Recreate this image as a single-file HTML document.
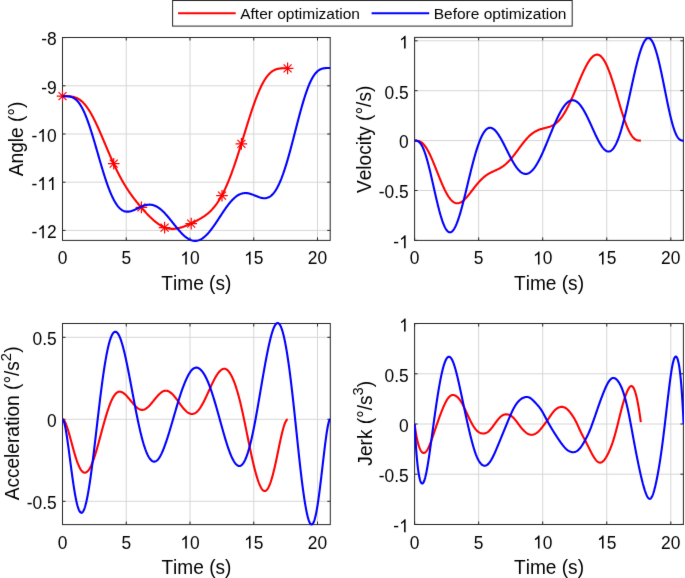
<!DOCTYPE html><html><head><meta charset="utf-8"><style>html,body{margin:0;padding:0;background:#fff;}svg{display:block;}text{font-family:"Liberation Sans",sans-serif;fill:#000;font-kerning:none;font-feature-settings:"kern" 0;}</style></head><body>
<svg width="685" height="578" viewBox="0 0 685 578">
<defs><filter id="bl" x="0" y="0" width="685" height="578" filterUnits="userSpaceOnUse" color-interpolation-filters="sRGB"><feConvolveMatrix order="3" kernelMatrix="0.00524 0.06192 0.00524 0.06192 0.73137 0.06192 0.00524 0.06192 0.00524" divisor="1" edgeMode="duplicate" preserveAlpha="true"/></filter></defs>
<g filter="url(#bl)">
<rect width="685" height="578" fill="#fff"/>
<g stroke="#d6d6d6" stroke-width="1"><line x1="126.25" y1="37.5" x2="126.25" y2="240.4"/><line x1="190.00" y1="37.5" x2="190.00" y2="240.4"/><line x1="253.75" y1="37.5" x2="253.75" y2="240.4"/><line x1="317.50" y1="37.5" x2="317.50" y2="240.4"/><line x1="62.5" y1="230.40" x2="330.2" y2="230.40"/><line x1="62.5" y1="182.20" x2="330.2" y2="182.20"/><line x1="62.5" y1="134.00" x2="330.2" y2="134.00"/><line x1="62.5" y1="85.80" x2="330.2" y2="85.80"/></g>
<path d="M62.50,240.4v-3.0M62.50,37.5v3.0M126.25,240.4v-3.0M126.25,37.5v3.0M190.00,240.4v-3.0M190.00,37.5v3.0M253.75,240.4v-3.0M253.75,37.5v3.0M317.50,240.4v-3.0M317.50,37.5v3.0M62.5,230.40h3.0M330.2,230.40h-3.0M62.5,182.20h3.0M330.2,182.20h-3.0M62.5,134.00h3.0M330.2,134.00h-3.0M62.5,85.80h3.0M330.2,85.80h-3.0M62.5,37.60h3.0M330.2,37.60h-3.0" stroke="#262626" stroke-width="1" fill="none"/>
<rect x="62.5" y="37.5" width="267.70" height="202.90" fill="none" stroke="#262626" stroke-width="1"/>
<text transform="translate(57.66,264.40) scale(1,1.035)" font-size="17.4">0</text>
<text transform="translate(121.41,264.40) scale(1,1.035)" font-size="17.4">5</text>
<path d="M763,0 L583,0 L583,1147 Q430,1010 222,930 L222,1104 Q500,1230 646,1466 L763,1466 Z" transform="translate(180.32,264.40) scale(0.008496,-0.008793)" fill="#000"/><text transform="translate(190.00,264.40) scale(1,1.035)" font-size="17.4">0</text>
<path d="M763,0 L583,0 L583,1147 Q430,1010 222,930 L222,1104 Q500,1230 646,1466 L763,1466 Z" transform="translate(244.07,264.40) scale(0.008496,-0.008793)" fill="#000"/><text transform="translate(253.75,264.40) scale(1,1.035)" font-size="17.4">5</text>
<text transform="translate(307.82,264.40) scale(1,1.035)" font-size="17.4">20</text>
<text transform="translate(31.55,238.20) scale(1,1.035)" font-size="17.4">-</text><path d="M763,0 L583,0 L583,1147 Q430,1010 222,930 L222,1104 Q500,1230 646,1466 L763,1466 Z" transform="translate(37.35,238.20) scale(0.008496,-0.008793)" fill="#000"/><text transform="translate(47.02,238.20) scale(1,1.035)" font-size="17.4">2</text>
<text transform="translate(31.55,190.00) scale(1,1.035)" font-size="17.4">-</text><path d="M763,0 L583,0 L583,1147 Q430,1010 222,930 L222,1104 Q500,1230 646,1466 L763,1466 Z" transform="translate(37.35,190.00) scale(0.008496,-0.008793)" fill="#000"/><path d="M763,0 L583,0 L583,1147 Q430,1010 222,930 L222,1104 Q500,1230 646,1466 L763,1466 Z" transform="translate(47.02,190.00) scale(0.008496,-0.008793)" fill="#000"/>
<text transform="translate(31.55,141.80) scale(1,1.035)" font-size="17.4">-</text><path d="M763,0 L583,0 L583,1147 Q430,1010 222,930 L222,1104 Q500,1230 646,1466 L763,1466 Z" transform="translate(37.35,141.80) scale(0.008496,-0.008793)" fill="#000"/><text transform="translate(47.02,141.80) scale(1,1.035)" font-size="17.4">0</text>
<text transform="translate(41.23,93.60) scale(1,1.035)" font-size="17.4">-9</text>
<text transform="translate(41.23,45.40) scale(1,1.035)" font-size="17.4">-8</text>
<text transform="translate(196.35,289.80) scale(1,1.035)" font-size="19.1" text-anchor="middle">Time (s)</text>
<text transform="translate(23.45,138.95) rotate(-90) scale(1,1.02)" font-size="19.1" text-anchor="middle">Angle (°)</text>
<g stroke="#d6d6d6" stroke-width="1"><line x1="478.65" y1="37.4" x2="478.65" y2="240.4"/><line x1="542.70" y1="37.4" x2="542.70" y2="240.4"/><line x1="606.75" y1="37.4" x2="606.75" y2="240.4"/><line x1="670.80" y1="37.4" x2="670.80" y2="240.4"/><line x1="414.6" y1="190.50" x2="683.4" y2="190.50"/><line x1="414.6" y1="140.60" x2="683.4" y2="140.60"/><line x1="414.6" y1="90.70" x2="683.4" y2="90.70"/><line x1="414.6" y1="40.80" x2="683.4" y2="40.80"/></g>
<path d="M414.60,240.4v-3.0M414.60,37.4v3.0M478.65,240.4v-3.0M478.65,37.4v3.0M542.70,240.4v-3.0M542.70,37.4v3.0M606.75,240.4v-3.0M606.75,37.4v3.0M670.80,240.4v-3.0M670.80,37.4v3.0M414.6,240.40h3.0M683.4,240.40h-3.0M414.6,190.50h3.0M683.4,190.50h-3.0M414.6,140.60h3.0M683.4,140.60h-3.0M414.6,90.70h3.0M683.4,90.70h-3.0M414.6,40.80h3.0M683.4,40.80h-3.0" stroke="#262626" stroke-width="1" fill="none"/>
<rect x="414.6" y="37.4" width="268.80" height="203.00" fill="none" stroke="#262626" stroke-width="1"/>
<text transform="translate(409.76,264.40) scale(1,1.035)" font-size="17.4">0</text>
<text transform="translate(473.81,264.40) scale(1,1.035)" font-size="17.4">5</text>
<path d="M763,0 L583,0 L583,1147 Q430,1010 222,930 L222,1104 Q500,1230 646,1466 L763,1466 Z" transform="translate(533.02,264.40) scale(0.008496,-0.008793)" fill="#000"/><text transform="translate(542.70,264.40) scale(1,1.035)" font-size="17.4">0</text>
<path d="M763,0 L583,0 L583,1147 Q430,1010 222,930 L222,1104 Q500,1230 646,1466 L763,1466 Z" transform="translate(597.07,264.40) scale(0.008496,-0.008793)" fill="#000"/><text transform="translate(606.75,264.40) scale(1,1.035)" font-size="17.4">5</text>
<text transform="translate(661.12,264.40) scale(1,1.035)" font-size="17.4">20</text>
<text transform="translate(393.33,248.20) scale(1,1.035)" font-size="17.4">-</text><path d="M763,0 L583,0 L583,1147 Q430,1010 222,930 L222,1104 Q500,1230 646,1466 L763,1466 Z" transform="translate(399.12,248.20) scale(0.008496,-0.008793)" fill="#000"/>
<text transform="translate(378.82,198.30) scale(1,1.035)" font-size="17.4">-0.5</text>
<text transform="translate(399.12,148.40) scale(1,1.035)" font-size="17.4">0</text>
<text transform="translate(384.61,98.50) scale(1,1.035)" font-size="17.4">0.5</text>
<path d="M763,0 L583,0 L583,1147 Q430,1010 222,930 L222,1104 Q500,1230 646,1466 L763,1466 Z" transform="translate(399.12,48.60) scale(0.008496,-0.008793)" fill="#000"/>
<text transform="translate(549.00,289.80) scale(1,1.035)" font-size="19.1" text-anchor="middle">Time (s)</text>
<text transform="translate(370.7,139.40) rotate(-90) scale(1,1.02)" font-size="19.1" text-anchor="middle">Velocity (°/s)</text>
<g stroke="#d6d6d6" stroke-width="1"><line x1="126.25" y1="323.5" x2="126.25" y2="524.6"/><line x1="190.00" y1="323.5" x2="190.00" y2="524.6"/><line x1="253.75" y1="323.5" x2="253.75" y2="524.6"/><line x1="317.50" y1="323.5" x2="317.50" y2="524.6"/><line x1="62.5" y1="501.30" x2="330.3" y2="501.30"/><line x1="62.5" y1="419.30" x2="330.3" y2="419.30"/><line x1="62.5" y1="337.30" x2="330.3" y2="337.30"/></g>
<path d="M62.50,524.6v-3.0M62.50,323.5v3.0M126.25,524.6v-3.0M126.25,323.5v3.0M190.00,524.6v-3.0M190.00,323.5v3.0M253.75,524.6v-3.0M253.75,323.5v3.0M317.50,524.6v-3.0M317.50,323.5v3.0M62.5,501.30h3.0M330.3,501.30h-3.0M62.5,419.30h3.0M330.3,419.30h-3.0M62.5,337.30h3.0M330.3,337.30h-3.0" stroke="#262626" stroke-width="1" fill="none"/>
<rect x="62.5" y="323.5" width="267.80" height="201.10" fill="none" stroke="#262626" stroke-width="1"/>
<text transform="translate(57.66,548.60) scale(1,1.035)" font-size="17.4">0</text>
<text transform="translate(121.41,548.60) scale(1,1.035)" font-size="17.4">5</text>
<path d="M763,0 L583,0 L583,1147 Q430,1010 222,930 L222,1104 Q500,1230 646,1466 L763,1466 Z" transform="translate(180.32,548.60) scale(0.008496,-0.008793)" fill="#000"/><text transform="translate(190.00,548.60) scale(1,1.035)" font-size="17.4">0</text>
<path d="M763,0 L583,0 L583,1147 Q430,1010 222,930 L222,1104 Q500,1230 646,1466 L763,1466 Z" transform="translate(244.07,548.60) scale(0.008496,-0.008793)" fill="#000"/><text transform="translate(253.75,548.60) scale(1,1.035)" font-size="17.4">5</text>
<text transform="translate(307.82,548.60) scale(1,1.035)" font-size="17.4">20</text>
<text transform="translate(26.72,509.10) scale(1,1.035)" font-size="17.4">-0.5</text>
<text transform="translate(47.02,427.10) scale(1,1.035)" font-size="17.4">0</text>
<text transform="translate(32.51,345.10) scale(1,1.035)" font-size="17.4">0.5</text>
<text transform="translate(196.40,574.00) scale(1,1.035)" font-size="19.1" text-anchor="middle">Time (s)</text>
<text transform="translate(19.3,423.40) rotate(-90) scale(1,1.02)" font-size="19.1" text-anchor="middle">Acceleration (°/s<tspan font-size="14.9" dy="-8.2">2</tspan><tspan dy="8.2">)</tspan></text>
<g stroke="#d6d6d6" stroke-width="1"><line x1="478.65" y1="323.5" x2="478.65" y2="524.5"/><line x1="542.70" y1="323.5" x2="542.70" y2="524.5"/><line x1="606.75" y1="323.5" x2="606.75" y2="524.5"/><line x1="670.80" y1="323.5" x2="670.80" y2="524.5"/><line x1="414.6" y1="474.20" x2="683.4" y2="474.20"/><line x1="414.6" y1="424.00" x2="683.4" y2="424.00"/><line x1="414.6" y1="373.80" x2="683.4" y2="373.80"/></g>
<path d="M414.60,524.5v-3.0M414.60,323.5v3.0M478.65,524.5v-3.0M478.65,323.5v3.0M542.70,524.5v-3.0M542.70,323.5v3.0M606.75,524.5v-3.0M606.75,323.5v3.0M670.80,524.5v-3.0M670.80,323.5v3.0M414.6,524.40h3.0M683.4,524.40h-3.0M414.6,474.20h3.0M683.4,474.20h-3.0M414.6,424.00h3.0M683.4,424.00h-3.0M414.6,373.80h3.0M683.4,373.80h-3.0M414.6,323.60h3.0M683.4,323.60h-3.0" stroke="#262626" stroke-width="1" fill="none"/>
<rect x="414.6" y="323.5" width="268.80" height="201.00" fill="none" stroke="#262626" stroke-width="1"/>
<text transform="translate(409.76,548.50) scale(1,1.035)" font-size="17.4">0</text>
<text transform="translate(473.81,548.50) scale(1,1.035)" font-size="17.4">5</text>
<path d="M763,0 L583,0 L583,1147 Q430,1010 222,930 L222,1104 Q500,1230 646,1466 L763,1466 Z" transform="translate(533.02,548.50) scale(0.008496,-0.008793)" fill="#000"/><text transform="translate(542.70,548.50) scale(1,1.035)" font-size="17.4">0</text>
<path d="M763,0 L583,0 L583,1147 Q430,1010 222,930 L222,1104 Q500,1230 646,1466 L763,1466 Z" transform="translate(597.07,548.50) scale(0.008496,-0.008793)" fill="#000"/><text transform="translate(606.75,548.50) scale(1,1.035)" font-size="17.4">5</text>
<text transform="translate(661.12,548.50) scale(1,1.035)" font-size="17.4">20</text>
<text transform="translate(393.33,532.20) scale(1,1.035)" font-size="17.4">-</text><path d="M763,0 L583,0 L583,1147 Q430,1010 222,930 L222,1104 Q500,1230 646,1466 L763,1466 Z" transform="translate(399.12,532.20) scale(0.008496,-0.008793)" fill="#000"/>
<text transform="translate(378.82,482.00) scale(1,1.035)" font-size="17.4">-0.5</text>
<text transform="translate(399.12,431.80) scale(1,1.035)" font-size="17.4">0</text>
<text transform="translate(384.61,381.60) scale(1,1.035)" font-size="17.4">0.5</text>
<path d="M763,0 L583,0 L583,1147 Q430,1010 222,930 L222,1104 Q500,1230 646,1466 L763,1466 Z" transform="translate(399.12,331.40) scale(0.008496,-0.008793)" fill="#000"/>
<text transform="translate(549.00,573.90) scale(1,1.035)" font-size="19.1" text-anchor="middle">Time (s)</text>
<text transform="translate(371.5,423.20) rotate(-90) scale(1,1.02)" font-size="19.1" text-anchor="middle">Jerk (°/s<tspan font-size="14.9" dy="-8.2">3</tspan><tspan dy="8.2">)</tspan></text>
<defs><clipPath id="cA"><rect x="62.0" y="36.0" width="268.7" height="205.9"/></clipPath><clipPath id="cV"><rect x="414.1" y="35.9" width="269.79999999999995" height="206.0"/></clipPath><clipPath id="cC"><rect x="62.0" y="322.0" width="268.8" height="204.10000000000002"/></clipPath><clipPath id="cJ"><rect x="414.1" y="322.0" width="269.79999999999995" height="204.0"/></clipPath></defs>
<g clip-path="url(#cA)"><path d="M62.50,96.20 L63.21,96.20 L63.93,96.20 L64.64,96.20 L65.35,96.20 L66.07,96.21 L66.78,96.22 L67.49,96.24 L68.20,96.26 L68.92,96.30 L69.63,96.35 L70.34,96.41 L71.06,96.49 L71.77,96.60 L72.48,96.72 L73.20,96.87 L73.91,97.04 L74.58,97.23 L75.26,97.46 L75.93,97.71 L76.61,97.99 L77.25,98.29 L77.89,98.62 L78.52,98.98 L79.12,99.35 L79.73,99.75 L80.33,100.19 L80.89,100.62 L81.45,101.09 L82.01,101.58 L82.54,102.07 L83.07,102.59 L83.59,103.13 L84.08,103.65 L84.57,104.20 L85.05,104.77 L85.50,105.32 L85.95,105.89 L86.41,106.48 L86.86,107.08 L87.27,107.66 L87.68,108.24 L88.09,108.85 L88.51,109.47 L88.92,110.11 L89.29,110.70 L89.67,111.30 L90.05,111.92 L90.42,112.55 L90.80,113.19 L91.17,113.85 L91.55,114.51 L91.92,115.19 L92.26,115.81 L92.60,116.44 L92.93,117.07 L93.27,117.72 L93.61,118.37 L93.95,119.04 L94.29,119.71 L94.62,120.38 L94.96,121.07 L95.30,121.76 L95.64,122.46 L95.97,123.17 L96.27,123.81 L96.57,124.45 L96.88,125.09 L97.18,125.74 L97.48,126.39 L97.78,127.05 L98.08,127.72 L98.38,128.38 L98.68,129.05 L98.98,129.73 L99.28,130.41 L99.58,131.09 L99.88,131.77 L100.18,132.46 L100.48,133.15 L100.78,133.85 L101.08,134.54 L101.38,135.24 L101.68,135.94 L101.98,136.65 L102.28,137.35 L102.58,138.06 L102.88,138.77 L103.18,139.47 L103.48,140.18 L103.78,140.90 L104.08,141.61 L104.38,142.32 L104.68,143.03 L104.98,143.74 L105.28,144.46 L105.58,145.17 L105.88,145.88 L106.18,146.60 L106.48,147.31 L106.78,148.02 L107.08,148.73 L107.38,149.44 L107.68,150.14 L107.98,150.85 L108.28,151.55 L108.58,152.26 L108.88,152.96 L109.18,153.65 L109.48,154.35 L109.78,155.05 L110.08,155.74 L110.39,156.43 L110.69,157.11 L110.99,157.80 L111.29,158.48 L111.59,159.16 L111.89,159.83 L112.19,160.51 L112.49,161.17 L112.79,161.84 L113.09,162.50 L113.39,163.16 L113.69,163.81 L113.99,164.47 L114.29,165.11 L114.59,165.76 L114.89,166.39 L115.19,167.03 L115.53,167.74 L115.86,168.44 L116.20,169.14 L116.54,169.84 L116.88,170.53 L117.22,171.21 L117.55,171.89 L117.89,172.56 L118.23,173.22 L118.57,173.88 L118.90,174.54 L119.24,175.19 L119.58,175.83 L119.92,176.47 L120.25,177.10 L120.59,177.73 L120.93,178.35 L121.27,178.96 L121.64,179.64 L122.02,180.31 L122.39,180.97 L122.77,181.63 L123.14,182.28 L123.52,182.92 L123.89,183.56 L124.27,184.19 L124.65,184.81 L125.02,185.43 L125.40,186.04 L125.77,186.64 L126.15,187.24 L126.52,187.83 L126.93,188.47 L127.35,189.11 L127.76,189.74 L128.17,190.36 L128.59,190.98 L129.00,191.59 L129.41,192.19 L129.82,192.79 L130.24,193.38 L130.65,193.96 L131.06,194.54 L131.48,195.12 L131.89,195.69 L132.34,196.30 L132.79,196.91 L133.24,197.51 L133.69,198.11 L134.14,198.70 L134.59,199.28 L135.04,199.86 L135.49,200.44 L135.94,201.01 L136.39,201.57 L136.84,202.13 L137.29,202.69 L137.74,203.24 L138.19,203.79 L138.64,204.34 L139.09,204.88 L139.54,205.42 L140.03,205.99 L140.52,206.57 L141.01,207.14 L141.50,207.70 L141.98,208.26 L142.47,208.82 L142.96,209.37 L143.45,209.92 L143.93,210.47 L144.42,211.01 L144.91,211.54 L145.40,212.08 L145.89,212.60 L146.37,213.13 L146.86,213.64 L147.35,214.16 L147.84,214.67 L148.33,215.17 L148.85,215.71 L149.38,216.23 L149.90,216.76 L150.43,217.27 L150.95,217.78 L151.48,218.28 L152.00,218.77 L152.53,219.26 L153.05,219.73 L153.58,220.20 L154.14,220.69 L154.71,221.17 L155.27,221.64 L155.83,222.09 L156.39,222.53 L156.96,222.96 L157.52,223.38 L158.12,223.81 L158.72,224.23 L159.32,224.63 L159.92,225.01 L160.52,225.37 L161.16,225.74 L161.80,226.09 L162.44,226.42 L163.07,226.73 L163.71,227.02 L164.39,227.31 L165.06,227.57 L165.74,227.80 L166.41,228.01 L167.09,228.20 L167.80,228.38 L168.52,228.53 L169.23,228.65 L169.94,228.75 L170.65,228.82 L171.37,228.87 L172.08,228.89 L172.79,228.89 L173.51,228.87 L174.22,228.82 L174.93,228.76 L175.65,228.67 L176.36,228.57 L177.07,228.44 L177.78,228.30 L178.50,228.14 L179.21,227.97 L179.92,227.78 L180.60,227.58 L181.27,227.38 L181.95,227.16 L182.63,226.93 L183.30,226.69 L183.98,226.45 L184.65,226.19 L185.33,225.93 L186.00,225.66 L186.68,225.38 L187.35,225.10 L188.03,224.81 L188.70,224.52 L189.38,224.22 L190.06,223.91 L190.69,223.62 L191.33,223.32 L191.97,223.02 L192.61,222.72 L193.25,222.41 L193.88,222.10 L194.52,221.79 L195.16,221.47 L195.80,221.14 L196.44,220.81 L197.07,220.48 L197.71,220.14 L198.35,219.79 L198.99,219.44 L199.63,219.07 L200.26,218.71 L200.90,218.33 L201.50,217.97 L202.10,217.59 L202.70,217.21 L203.30,216.82 L203.90,216.42 L204.50,216.01 L205.10,215.58 L205.70,215.14 L206.27,214.71 L206.83,214.28 L207.39,213.82 L207.96,213.36 L208.52,212.88 L209.04,212.41 L209.57,211.93 L210.10,211.44 L210.62,210.93 L211.15,210.41 L211.63,209.91 L212.12,209.39 L212.61,208.86 L213.10,208.31 L213.59,207.74 L214.07,207.16 L214.52,206.61 L214.97,206.05 L215.42,205.47 L215.87,204.87 L216.33,204.26 L216.74,203.68 L217.15,203.10 L217.56,202.49 L217.98,201.88 L218.39,201.25 L218.80,200.60 L219.18,200.00 L219.55,199.39 L219.93,198.77 L220.30,198.13 L220.68,197.49 L221.05,196.83 L221.43,196.15 L221.77,195.54 L222.10,194.91 L222.44,194.27 L222.78,193.63 L223.12,192.97 L223.46,192.30 L223.79,191.62 L224.13,190.94 L224.47,190.24 L224.81,189.53 L225.11,188.89 L225.41,188.24 L225.71,187.58 L226.01,186.92 L226.31,186.25 L226.61,185.57 L226.91,184.88 L227.21,184.18 L227.51,183.48 L227.81,182.77 L228.11,182.04 L228.41,181.32 L228.71,180.58 L228.97,179.93 L229.23,179.27 L229.50,178.61 L229.76,177.94 L230.02,177.27 L230.29,176.59 L230.55,175.90 L230.81,175.21 L231.07,174.51 L231.34,173.81 L231.60,173.10 L231.86,172.39 L232.12,171.67 L232.39,170.95 L232.65,170.22 L232.91,169.49 L233.18,168.75 L233.44,168.00 L233.70,167.26 L233.96,166.50 L234.23,165.74 L234.49,164.98 L234.75,164.21 L235.01,163.44 L235.24,162.78 L235.46,162.11 L235.69,161.44 L235.91,160.76 L236.14,160.08 L236.36,159.40 L236.59,158.72 L236.82,158.04 L237.04,157.35 L237.27,156.66 L237.49,155.96 L237.72,155.26 L237.94,154.57 L238.17,153.86 L238.39,153.16 L238.62,152.46 L238.84,151.75 L239.07,151.04 L239.29,150.33 L239.52,149.61 L239.74,148.90 L239.97,148.18 L240.19,147.46 L240.42,146.74 L240.64,146.02 L240.87,145.29 L241.09,144.57 L241.32,143.84 L241.54,143.12 L241.77,142.39 L241.99,141.66 L242.22,140.93 L242.44,140.20 L242.67,139.47 L242.89,138.73 L243.12,138.00 L243.35,137.27 L243.57,136.54 L243.80,135.80 L244.02,135.07 L244.25,134.34 L244.47,133.60 L244.70,132.87 L244.92,132.14 L245.15,131.40 L245.37,130.67 L245.60,129.94 L245.82,129.21 L246.05,128.48 L246.27,127.75 L246.50,127.02 L246.72,126.29 L246.95,125.57 L247.17,124.84 L247.40,124.12 L247.62,123.40 L247.85,122.68 L248.07,121.96 L248.30,121.24 L248.52,120.53 L248.75,119.82 L248.97,119.11 L249.20,118.40 L249.42,117.69 L249.65,116.99 L249.87,116.29 L250.10,115.59 L250.33,114.89 L250.55,114.20 L250.78,113.51 L251.00,112.82 L251.23,112.14 L251.45,111.46 L251.68,110.78 L251.90,110.11 L252.13,109.44 L252.35,108.77 L252.58,108.11 L252.84,107.34 L253.10,106.57 L253.36,105.81 L253.63,105.06 L253.89,104.31 L254.15,103.57 L254.42,102.84 L254.68,102.11 L254.94,101.38 L255.20,100.67 L255.47,99.96 L255.73,99.25 L255.99,98.56 L256.25,97.86 L256.52,97.18 L256.78,96.50 L257.04,95.84 L257.31,95.17 L257.57,94.52 L257.87,93.78 L258.17,93.05 L258.47,92.33 L258.77,91.62 L259.07,90.92 L259.37,90.24 L259.67,89.56 L259.97,88.89 L260.27,88.23 L260.57,87.59 L260.87,86.95 L261.21,86.25 L261.55,85.57 L261.88,84.90 L262.22,84.24 L262.56,83.60 L262.90,82.97 L263.23,82.35 L263.61,81.69 L263.99,81.04 L264.36,80.41 L264.74,79.80 L265.11,79.21 L265.52,78.58 L265.94,77.97 L266.35,77.39 L266.80,76.77 L267.25,76.18 L267.70,75.62 L268.15,75.08 L268.64,74.53 L269.13,74.00 L269.65,73.47 L270.18,72.97 L270.70,72.50 L271.27,72.04 L271.83,71.60 L272.43,71.18 L273.03,70.79 L273.67,70.42 L274.31,70.09 L274.94,69.79 L275.62,69.51 L276.29,69.27 L276.97,69.07 L277.68,68.88 L278.40,68.73 L279.11,68.60 L279.82,68.50 L280.53,68.42 L281.25,68.36 L281.96,68.31 L282.67,68.28 L283.39,68.26 L284.10,68.25 L284.81,68.24 L285.53,68.23 L286.24,68.23 L286.95,68.23 L287.66,68.23" stroke="#ff0000" stroke-width="2.1" fill="none" stroke-linejoin="round" stroke-linecap="butt"/></g>
<path d="M56.70,96.20h11.6M62.50,90.40v11.6M58.50,92.20l8.0,8.0M58.50,100.20l8.0,-8.0M107.90,163.70h11.6M113.70,157.90v11.6M109.70,159.70l8.0,8.0M109.70,167.70l8.0,-8.0M135.60,207.40h11.6M141.40,201.60v11.6M137.40,203.40l8.0,8.0M137.40,211.40l8.0,-8.0M158.80,227.60h11.6M164.60,221.80v11.6M160.60,223.60l8.0,8.0M160.60,231.60l8.0,-8.0M185.40,223.60h11.6M191.20,217.80v11.6M187.20,219.60l8.0,8.0M187.20,227.60l8.0,-8.0M216.20,195.70h11.6M222.00,189.90v11.6M218.00,191.70l8.0,8.0M218.00,199.70l8.0,-8.0M235.60,143.90h11.6M241.40,138.10v11.6M237.40,139.90l8.0,8.0M237.40,147.90l8.0,-8.0M281.80,68.40h11.6M287.60,62.60v11.6M283.60,64.40l8.0,8.0M283.60,72.40l8.0,-8.0" stroke="#ff0000" stroke-width="1.2" fill="none"/>
<g clip-path="url(#cA)"><path d="M62.50,96.20 L63.21,96.20 L63.93,96.20 L64.64,96.20 L65.36,96.21 L66.07,96.23 L66.78,96.25 L67.50,96.29 L68.21,96.36 L68.93,96.44 L69.64,96.56 L70.35,96.71 L71.07,96.89 L71.74,97.11 L72.41,97.37 L73.08,97.68 L73.70,98.01 L74.33,98.39 L74.91,98.79 L75.49,99.23 L76.07,99.72 L76.60,100.21 L77.14,100.75 L77.63,101.28 L78.12,101.85 L78.56,102.41 L79.01,102.99 L79.46,103.61 L79.86,104.19 L80.26,104.80 L80.66,105.44 L81.06,106.10 L81.42,106.71 L81.78,107.35 L82.14,108.00 L82.49,108.68 L82.85,109.38 L83.16,110.01 L83.47,110.66 L83.79,111.32 L84.10,112.00 L84.41,112.69 L84.72,113.40 L85.04,114.12 L85.35,114.86 L85.62,115.51 L85.88,116.17 L86.15,116.84 L86.42,117.52 L86.69,118.21 L86.95,118.91 L87.22,119.62 L87.49,120.34 L87.76,121.07 L88.03,121.81 L88.29,122.56 L88.56,123.32 L88.83,124.09 L89.10,124.87 L89.36,125.66 L89.63,126.45 L89.86,127.12 L90.08,127.80 L90.30,128.48 L90.52,129.16 L90.75,129.85 L90.97,130.55 L91.19,131.25 L91.42,131.96 L91.64,132.67 L91.86,133.38 L92.09,134.10 L92.31,134.83 L92.53,135.56 L92.76,136.29 L92.98,137.02 L93.20,137.76 L93.43,138.50 L93.65,139.25 L93.87,140.00 L94.09,140.75 L94.32,141.50 L94.54,142.26 L94.76,143.02 L94.99,143.78 L95.21,144.55 L95.43,145.31 L95.66,146.08 L95.88,146.85 L96.10,147.62 L96.33,148.39 L96.55,149.16 L96.77,149.94 L97.00,150.71 L97.22,151.49 L97.44,152.26 L97.66,153.04 L97.89,153.81 L98.11,154.59 L98.33,155.36 L98.56,156.14 L98.78,156.91 L99.00,157.68 L99.23,158.45 L99.45,159.22 L99.67,159.99 L99.90,160.76 L100.12,161.53 L100.34,162.29 L100.57,163.05 L100.79,163.81 L101.01,164.57 L101.23,165.33 L101.46,166.08 L101.68,166.83 L101.90,167.57 L102.13,168.32 L102.35,169.06 L102.57,169.80 L102.80,170.53 L103.02,171.26 L103.24,171.98 L103.47,172.71 L103.69,173.42 L103.91,174.14 L104.14,174.85 L104.36,175.55 L104.58,176.25 L104.80,176.95 L105.03,177.64 L105.25,178.32 L105.47,179.00 L105.70,179.68 L105.92,180.35 L106.14,181.01 L106.41,181.80 L106.68,182.58 L106.95,183.35 L107.21,184.11 L107.48,184.87 L107.75,185.62 L108.02,186.35 L108.29,187.08 L108.55,187.80 L108.82,188.51 L109.09,189.21 L109.36,189.89 L109.62,190.57 L109.89,191.24 L110.16,191.90 L110.43,192.55 L110.74,193.29 L111.05,194.02 L111.36,194.74 L111.68,195.43 L111.99,196.12 L112.30,196.79 L112.61,197.44 L112.93,198.08 L113.28,198.80 L113.64,199.49 L114.00,200.16 L114.35,200.82 L114.71,201.45 L115.07,202.06 L115.47,202.73 L115.87,203.37 L116.27,203.98 L116.67,204.57 L117.12,205.19 L117.57,205.79 L118.01,206.35 L118.50,206.93 L119.00,207.48 L119.49,207.99 L120.02,208.50 L120.56,208.97 L121.14,209.44 L121.72,209.85 L122.34,210.25 L122.97,210.59 L123.64,210.91 L124.31,211.16 L125.02,211.37 L125.73,211.53 L126.45,211.62 L127.16,211.67 L127.88,211.66 L128.59,211.61 L129.30,211.51 L130.02,211.37 L130.73,211.20 L131.45,211.00 L132.12,210.78 L132.78,210.53 L133.45,210.27 L134.12,209.99 L134.79,209.69 L135.46,209.39 L136.13,209.07 L136.80,208.75 L137.47,208.43 L138.14,208.10 L138.81,207.78 L139.48,207.46 L140.15,207.15 L140.82,206.84 L141.49,206.55 L142.16,206.28 L142.82,206.01 L143.49,205.77 L144.16,205.55 L144.88,205.33 L145.59,205.14 L146.31,204.98 L147.02,204.85 L147.73,204.75 L148.45,204.69 L149.16,204.66 L149.88,204.66 L150.59,204.70 L151.30,204.78 L152.02,204.89 L152.73,205.04 L153.45,205.24 L154.12,205.45 L154.78,205.70 L155.45,205.98 L156.12,206.30 L156.75,206.63 L157.37,206.99 L158.00,207.37 L158.62,207.78 L159.20,208.19 L159.78,208.63 L160.36,209.08 L160.94,209.56 L161.48,210.02 L162.01,210.50 L162.55,210.99 L163.08,211.50 L163.62,212.03 L164.16,212.57 L164.65,213.08 L165.14,213.60 L165.63,214.14 L166.12,214.68 L166.61,215.23 L167.10,215.80 L167.59,216.37 L168.08,216.95 L168.57,217.53 L169.06,218.13 L169.51,218.67 L169.96,219.22 L170.40,219.77 L170.85,220.33 L171.30,220.88 L171.74,221.44 L172.19,222.01 L172.63,222.57 L173.08,223.13 L173.53,223.70 L173.97,224.26 L174.42,224.82 L174.87,225.38 L175.31,225.94 L175.76,226.49 L176.20,227.04 L176.65,227.59 L177.10,228.13 L177.59,228.72 L178.08,229.31 L178.57,229.89 L179.06,230.46 L179.55,231.02 L180.04,231.57 L180.53,232.11 L181.02,232.64 L181.51,233.15 L182.01,233.66 L182.54,234.20 L183.08,234.72 L183.61,235.22 L184.15,235.71 L184.68,236.18 L185.26,236.67 L185.84,237.13 L186.42,237.57 L187.00,237.99 L187.63,238.40 L188.25,238.79 L188.88,239.15 L189.50,239.48 L190.17,239.79 L190.84,240.07 L191.51,240.30 L192.22,240.51 L192.94,240.67 L193.65,240.79 L194.37,240.86 L195.08,240.88 L195.79,240.85 L196.51,240.78 L197.22,240.66 L197.94,240.49 L198.65,240.27 L199.32,240.03 L199.99,239.74 L200.66,239.41 L201.28,239.07 L201.91,238.70 L202.53,238.29 L203.11,237.88 L203.69,237.44 L204.27,236.97 L204.81,236.52 L205.34,236.04 L205.88,235.54 L206.42,235.02 L206.95,234.47 L207.44,233.96 L207.93,233.42 L208.42,232.88 L208.91,232.31 L209.41,231.73 L209.85,231.19 L210.30,230.64 L210.74,230.08 L211.19,229.50 L211.64,228.92 L212.08,228.32 L212.53,227.72 L212.98,227.11 L213.42,226.49 L213.87,225.86 L214.31,225.22 L214.72,224.64 L215.12,224.06 L215.52,223.47 L215.92,222.88 L216.32,222.28 L216.72,221.68 L217.13,221.08 L217.53,220.47 L217.93,219.86 L218.33,219.25 L218.73,218.64 L219.13,218.03 L219.54,217.41 L219.94,216.80 L220.34,216.19 L220.74,215.57 L221.14,214.96 L221.54,214.35 L221.95,213.74 L222.35,213.13 L222.75,212.53 L223.15,211.93 L223.55,211.33 L223.95,210.74 L224.35,210.15 L224.76,209.57 L225.16,208.99 L225.60,208.35 L226.05,207.72 L226.50,207.10 L226.94,206.49 L227.39,205.88 L227.84,205.29 L228.28,204.71 L228.73,204.13 L229.17,203.57 L229.62,203.02 L230.07,202.48 L230.56,201.90 L231.05,201.33 L231.54,200.78 L232.03,200.25 L232.52,199.73 L233.06,199.19 L233.59,198.67 L234.13,198.17 L234.66,197.69 L235.20,197.23 L235.78,196.77 L236.36,196.32 L236.94,195.91 L237.56,195.49 L238.19,195.11 L238.81,194.76 L239.44,194.45 L240.11,194.14 L240.78,193.88 L241.45,193.65 L242.16,193.45 L242.87,193.29 L243.59,193.17 L244.30,193.09 L245.02,193.05 L245.73,193.05 L246.44,193.08 L247.16,193.15 L247.87,193.25 L248.59,193.38 L249.30,193.54 L250.01,193.73 L250.73,193.94 L251.40,194.16 L252.07,194.39 L252.74,194.64 L253.41,194.89 L254.08,195.16 L254.74,195.43 L255.41,195.71 L256.08,195.99 L256.75,196.26 L257.42,196.53 L258.09,196.79 L258.76,197.04 L259.43,197.27 L260.10,197.49 L260.81,197.69 L261.53,197.87 L262.24,198.02 L262.96,198.13 L263.67,198.20 L264.38,198.23 L265.10,198.21 L265.81,198.14 L266.53,198.02 L267.24,197.84 L267.91,197.61 L268.58,197.33 L269.20,197.01 L269.83,196.65 L270.41,196.25 L270.99,195.81 L271.52,195.36 L272.06,194.87 L272.59,194.32 L273.09,193.79 L273.58,193.21 L274.02,192.66 L274.47,192.07 L274.91,191.44 L275.32,190.85 L275.72,190.24 L276.12,189.59 L276.52,188.92 L276.88,188.30 L277.24,187.65 L277.59,186.99 L277.95,186.30 L278.31,185.59 L278.62,184.95 L278.93,184.29 L279.24,183.62 L279.56,182.93 L279.87,182.22 L280.18,181.50 L280.49,180.76 L280.76,180.11 L281.03,179.45 L281.30,178.78 L281.56,178.09 L281.83,177.40 L282.10,176.69 L282.37,175.97 L282.64,175.24 L282.90,174.50 L283.17,173.75 L283.44,172.98 L283.71,172.21 L283.97,171.42 L284.24,170.63 L284.46,169.96 L284.69,169.28 L284.91,168.59 L285.13,167.90 L285.36,167.20 L285.58,166.49 L285.80,165.78 L286.03,165.06 L286.25,164.33 L286.47,163.60 L286.70,162.86 L286.92,162.12 L287.14,161.37 L287.37,160.61 L287.59,159.85 L287.81,159.08 L288.03,158.30 L288.26,157.52 L288.48,156.74 L288.70,155.95 L288.93,155.15 L289.15,154.36 L289.37,153.55 L289.60,152.74 L289.82,151.93 L290.04,151.11 L290.27,150.29 L290.49,149.47 L290.71,148.64 L290.94,147.81 L291.16,146.97 L291.38,146.13 L291.60,145.29 L291.83,144.44 L292.01,143.77 L292.18,143.09 L292.36,142.40 L292.54,141.72 L292.72,141.04 L292.90,140.35 L293.08,139.67 L293.26,138.98 L293.43,138.29 L293.61,137.60 L293.79,136.91 L293.97,136.22 L294.15,135.53 L294.33,134.83 L294.51,134.14 L294.68,133.45 L294.86,132.76 L295.04,132.06 L295.22,131.37 L295.40,130.67 L295.58,129.98 L295.75,129.29 L295.93,128.59 L296.11,127.90 L296.29,127.21 L296.47,126.52 L296.65,125.83 L296.83,125.14 L297.00,124.45 L297.18,123.76 L297.36,123.08 L297.54,122.39 L297.72,121.71 L297.90,121.02 L298.08,120.34 L298.25,119.66 L298.43,118.98 L298.66,118.14 L298.88,117.30 L299.10,116.46 L299.32,115.62 L299.55,114.79 L299.77,113.96 L299.99,113.14 L300.22,112.32 L300.44,111.50 L300.66,110.69 L300.89,109.88 L301.11,109.08 L301.33,108.29 L301.56,107.49 L301.78,106.71 L302.00,105.93 L302.23,105.15 L302.45,104.38 L302.67,103.62 L302.89,102.86 L303.12,102.11 L303.34,101.36 L303.56,100.62 L303.79,99.89 L304.01,99.17 L304.23,98.45 L304.46,97.74 L304.68,97.04 L304.90,96.34 L305.13,95.65 L305.35,94.97 L305.57,94.30 L305.80,93.63 L306.06,92.84 L306.33,92.06 L306.60,91.30 L306.87,90.55 L307.13,89.81 L307.40,89.08 L307.67,88.36 L307.94,87.66 L308.21,86.97 L308.47,86.29 L308.74,85.63 L309.01,84.97 L309.32,84.23 L309.63,83.51 L309.95,82.80 L310.26,82.11 L310.57,81.44 L310.88,80.79 L311.20,80.15 L311.55,79.45 L311.91,78.77 L312.27,78.12 L312.62,77.49 L312.98,76.89 L313.38,76.24 L313.78,75.61 L314.19,75.02 L314.63,74.40 L315.08,73.81 L315.52,73.26 L316.01,72.70 L316.51,72.17 L317.04,71.65 L317.58,71.17 L318.16,70.69 L318.74,70.27 L319.36,69.87 L319.99,69.52 L320.66,69.20 L321.32,68.94 L321.99,68.71 L322.71,68.52 L323.42,68.37 L324.14,68.26 L324.85,68.17 L325.56,68.11 L326.28,68.07 L326.99,68.05 L327.71,68.04 L328.42,68.03 L329.13,68.03 L329.85,68.03 L330.25,68.03" stroke="#0000ff" stroke-width="2.1" fill="none" stroke-linejoin="round" stroke-linecap="butt"/></g>
<g clip-path="url(#cV)"><path d="M414.60,140.60 L415.32,140.60 L416.03,140.62 L416.75,140.67 L417.47,140.76 L418.18,140.91 L418.86,141.10 L419.54,141.35 L420.18,141.65 L420.82,142.02 L421.42,142.42 L421.99,142.85 L422.56,143.34 L423.08,143.84 L423.57,144.35 L424.06,144.91 L424.52,145.46 L424.97,146.04 L425.38,146.61 L425.80,147.21 L426.21,147.83 L426.59,148.43 L426.97,149.04 L427.34,149.68 L427.72,150.34 L428.06,150.96 L428.40,151.59 L428.74,152.24 L429.08,152.90 L429.42,153.58 L429.76,154.27 L430.10,154.98 L430.40,155.62 L430.70,156.28 L431.00,156.94 L431.30,157.61 L431.60,158.29 L431.91,158.98 L432.21,159.68 L432.51,160.39 L432.81,161.10 L433.11,161.82 L433.41,162.55 L433.72,163.28 L434.02,164.02 L434.28,164.67 L434.55,165.32 L434.81,165.98 L435.07,166.64 L435.34,167.30 L435.60,167.96 L435.87,168.63 L436.13,169.30 L436.39,169.96 L436.66,170.63 L436.92,171.30 L437.18,171.97 L437.45,172.64 L437.71,173.31 L437.98,173.98 L438.24,174.64 L438.50,175.31 L438.77,175.97 L439.03,176.63 L439.30,177.29 L439.56,177.95 L439.82,178.60 L440.09,179.25 L440.39,179.99 L440.69,180.72 L440.99,181.45 L441.29,182.17 L441.60,182.88 L441.90,183.59 L442.20,184.29 L442.50,184.98 L442.80,185.67 L443.10,186.34 L443.41,187.01 L443.71,187.67 L444.01,188.31 L444.31,188.95 L444.65,189.66 L444.99,190.35 L445.33,191.02 L445.67,191.69 L446.01,192.33 L446.35,192.96 L446.69,193.58 L447.06,194.24 L447.44,194.89 L447.82,195.51 L448.19,196.11 L448.61,196.74 L449.02,197.35 L449.44,197.92 L449.89,198.52 L450.34,199.09 L450.83,199.66 L451.32,200.19 L451.85,200.71 L452.38,201.19 L452.95,201.64 L453.55,202.07 L454.15,202.43 L454.79,202.74 L455.47,202.99 L456.15,203.17 L456.87,203.27 L457.58,203.28 L458.30,203.21 L459.02,203.07 L459.69,202.85 L460.37,202.57 L461.01,202.24 L461.62,201.89 L462.22,201.48 L462.79,201.06 L463.35,200.61 L463.92,200.11 L464.44,199.62 L464.97,199.11 L465.46,198.61 L465.95,198.08 L466.44,197.54 L466.93,196.99 L467.42,196.41 L467.88,195.87 L468.33,195.32 L468.78,194.76 L469.23,194.19 L469.69,193.62 L470.14,193.03 L470.59,192.45 L471.04,191.86 L471.50,191.27 L471.95,190.67 L472.40,190.08 L472.85,189.49 L473.31,188.89 L473.76,188.30 L474.21,187.72 L474.66,187.14 L475.12,186.56 L475.57,185.99 L476.02,185.43 L476.47,184.87 L476.92,184.32 L477.38,183.78 L477.87,183.20 L478.36,182.63 L478.85,182.08 L479.34,181.54 L479.83,181.01 L480.32,180.49 L480.81,179.99 L481.34,179.46 L481.86,178.95 L482.39,178.45 L482.92,177.97 L483.45,177.50 L484.01,177.02 L484.58,176.56 L485.14,176.12 L485.71,175.69 L486.31,175.26 L486.92,174.84 L487.52,174.44 L488.12,174.06 L488.73,173.70 L489.37,173.33 L490.01,172.98 L490.65,172.65 L491.29,172.33 L491.93,172.01 L492.57,171.71 L493.21,171.42 L493.85,171.13 L494.49,170.84 L495.14,170.55 L495.78,170.26 L496.42,169.97 L497.06,169.67 L497.70,169.36 L498.34,169.05 L498.98,168.72 L499.62,168.38 L500.26,168.02 L500.90,167.64 L501.51,167.27 L502.11,166.88 L502.71,166.48 L503.32,166.05 L503.88,165.63 L504.45,165.20 L505.01,164.74 L505.58,164.27 L506.15,163.78 L506.67,163.30 L507.20,162.81 L507.73,162.31 L508.26,161.78 L508.75,161.28 L509.24,160.77 L509.73,160.24 L510.22,159.70 L510.71,159.15 L511.20,158.58 L511.69,158.00 L512.14,157.46 L512.59,156.91 L513.05,156.35 L513.50,155.78 L513.95,155.20 L514.40,154.62 L514.86,154.03 L515.31,153.44 L515.76,152.84 L516.21,152.23 L516.66,151.62 L517.12,151.01 L517.57,150.40 L518.02,149.79 L518.47,149.17 L518.93,148.56 L519.38,147.94 L519.83,147.33 L520.28,146.72 L520.74,146.11 L521.19,145.51 L521.64,144.91 L522.09,144.32 L522.55,143.73 L523.00,143.15 L523.45,142.58 L523.90,142.01 L524.36,141.46 L524.81,140.91 L525.26,140.37 L525.75,139.80 L526.24,139.24 L526.73,138.69 L527.22,138.16 L527.71,137.64 L528.20,137.13 L528.73,136.60 L529.26,136.09 L529.79,135.59 L530.31,135.12 L530.88,134.63 L531.45,134.16 L532.01,133.71 L532.58,133.28 L533.18,132.85 L533.78,132.44 L534.39,132.05 L534.99,131.69 L535.63,131.33 L536.27,130.99 L536.91,130.67 L537.55,130.38 L538.23,130.09 L538.91,129.82 L539.59,129.57 L540.27,129.34 L540.95,129.12 L541.63,128.92 L542.30,128.73 L542.98,128.55 L543.66,128.37 L544.34,128.20 L545.02,128.02 L545.70,127.85 L546.38,127.67 L547.05,127.49 L547.73,127.30 L548.41,127.10 L549.09,126.88 L549.77,126.64 L550.45,126.39 L551.13,126.11 L551.77,125.82 L552.41,125.51 L553.05,125.17 L553.69,124.80 L554.29,124.43 L554.90,124.02 L555.50,123.59 L556.07,123.15 L556.63,122.69 L557.16,122.23 L557.69,121.74 L558.21,121.23 L558.71,120.72 L559.20,120.20 L559.69,119.65 L560.18,119.07 L560.63,118.52 L561.08,117.95 L561.53,117.35 L561.95,116.79 L562.36,116.21 L562.78,115.61 L563.19,114.99 L563.61,114.35 L563.98,113.76 L564.36,113.15 L564.74,112.53 L565.11,111.90 L565.49,111.25 L565.87,110.58 L566.25,109.91 L566.59,109.29 L566.92,108.66 L567.26,108.01 L567.60,107.36 L567.94,106.70 L568.28,106.03 L568.62,105.35 L568.96,104.65 L569.30,103.95 L569.64,103.25 L569.94,102.61 L570.24,101.96 L570.54,101.31 L570.85,100.66 L571.15,100.00 L571.45,99.33 L571.75,98.66 L572.05,97.98 L572.35,97.29 L572.66,96.61 L572.96,95.91 L573.26,95.22 L573.56,94.52 L573.86,93.81 L574.16,93.11 L574.47,92.40 L574.77,91.68 L575.07,90.97 L575.37,90.25 L575.67,89.53 L575.97,88.81 L576.28,88.09 L576.58,87.36 L576.88,86.64 L577.18,85.91 L577.48,85.19 L577.78,84.46 L578.08,83.74 L578.39,83.02 L578.69,82.30 L578.99,81.58 L579.29,80.86 L579.59,80.15 L579.89,79.44 L580.20,78.73 L580.50,78.03 L580.80,77.33 L581.10,76.63 L581.40,75.94 L581.70,75.26 L582.01,74.58 L582.31,73.90 L582.61,73.23 L582.91,72.57 L583.21,71.92 L583.51,71.27 L583.82,70.63 L584.12,70.00 L584.46,69.29 L584.80,68.60 L585.14,67.92 L585.47,67.25 L585.81,66.59 L586.15,65.95 L586.49,65.32 L586.83,64.70 L587.21,64.03 L587.59,63.37 L587.96,62.74 L588.34,62.12 L588.72,61.52 L589.13,60.89 L589.55,60.28 L589.96,59.70 L590.41,59.09 L590.87,58.52 L591.32,57.99 L591.81,57.45 L592.34,56.91 L592.86,56.43 L593.43,55.97 L594.03,55.55 L594.67,55.19 L595.35,54.89 L596.03,54.70 L596.75,54.60 L597.46,54.62 L598.18,54.75 L598.86,54.99 L599.50,55.31 L600.10,55.70 L600.67,56.14 L601.20,56.62 L601.69,57.13 L602.18,57.69 L602.63,58.25 L603.08,58.87 L603.50,59.47 L603.91,60.11 L604.29,60.73 L604.67,61.37 L605.04,62.05 L605.38,62.68 L605.72,63.34 L606.06,64.03 L606.40,64.73 L606.70,65.38 L607.00,66.04 L607.31,66.72 L607.61,67.42 L607.91,68.14 L608.21,68.87 L608.47,69.53 L608.74,70.19 L609.00,70.87 L609.27,71.56 L609.53,72.26 L609.79,72.98 L610.06,73.70 L610.32,74.43 L610.59,75.18 L610.85,75.93 L611.11,76.70 L611.34,77.36 L611.57,78.03 L611.79,78.71 L612.02,79.39 L612.24,80.08 L612.47,80.78 L612.70,81.48 L612.92,82.19 L613.15,82.90 L613.38,83.62 L613.60,84.34 L613.83,85.07 L614.05,85.80 L614.28,86.53 L614.51,87.27 L614.73,88.02 L614.96,88.77 L615.19,89.52 L615.41,90.27 L615.64,91.03 L615.86,91.79 L616.09,92.55 L616.32,93.31 L616.54,94.08 L616.77,94.85 L617.00,95.61 L617.22,96.38 L617.45,97.15 L617.67,97.93 L617.90,98.70 L618.13,99.47 L618.35,100.24 L618.58,101.01 L618.81,101.77 L619.03,102.54 L619.26,103.31 L619.48,104.07 L619.71,104.83 L619.94,105.59 L620.16,106.35 L620.39,107.10 L620.62,107.85 L620.84,108.60 L621.07,109.34 L621.29,110.08 L621.52,110.82 L621.75,111.55 L621.97,112.27 L622.20,112.99 L622.42,113.71 L622.65,114.41 L622.88,115.12 L623.10,115.81 L623.33,116.50 L623.56,117.19 L623.78,117.86 L624.01,118.53 L624.27,119.30 L624.54,120.06 L624.80,120.81 L625.06,121.55 L625.33,122.28 L625.59,123.00 L625.86,123.70 L626.12,124.39 L626.38,125.07 L626.65,125.74 L626.91,126.39 L627.21,127.12 L627.52,127.84 L627.82,128.53 L628.12,129.20 L628.42,129.86 L628.72,130.50 L629.06,131.19 L629.40,131.86 L629.74,132.50 L630.08,133.12 L630.46,133.77 L630.83,134.39 L631.25,135.04 L631.66,135.65 L632.08,136.22 L632.53,136.79 L633.02,137.36 L633.51,137.88 L634.04,138.37 L634.60,138.84 L635.21,139.27 L635.81,139.62 L636.45,139.93 L637.13,140.18 L637.81,140.36 L638.52,140.48 L639.24,140.56 L639.96,140.59 L640.67,140.60 L640.82,140.60" stroke="#ff0000" stroke-width="2.1" fill="none" stroke-linejoin="round" stroke-linecap="butt"/></g>
<g clip-path="url(#cV)"><path d="M414.60,140.60 L415.32,140.61 L416.03,140.65 L416.75,140.77 L417.42,140.98 L418.10,141.29 L418.72,141.69 L419.31,142.17 L419.85,142.71 L420.34,143.29 L420.79,143.89 L421.19,144.49 L421.59,145.15 L421.95,145.79 L422.31,146.47 L422.63,147.10 L422.94,147.77 L423.25,148.47 L423.57,149.21 L423.84,149.88 L424.11,150.56 L424.37,151.27 L424.64,152.01 L424.91,152.77 L425.18,153.56 L425.41,154.23 L425.63,154.92 L425.85,155.62 L426.08,156.34 L426.30,157.07 L426.53,157.82 L426.75,158.59 L426.97,159.36 L427.20,160.16 L427.42,160.96 L427.65,161.78 L427.87,162.61 L428.10,163.45 L428.27,164.14 L428.45,164.83 L428.63,165.52 L428.81,166.23 L428.99,166.94 L429.17,167.65 L429.35,168.38 L429.53,169.11 L429.71,169.84 L429.89,170.58 L430.07,171.33 L430.25,172.08 L430.43,172.83 L430.61,173.59 L430.79,174.36 L430.96,175.13 L431.14,175.90 L431.32,176.67 L431.50,177.45 L431.68,178.23 L431.86,179.02 L432.04,179.80 L432.22,180.59 L432.40,181.38 L432.58,182.17 L432.76,182.97 L432.94,183.76 L433.12,184.56 L433.30,185.36 L433.48,186.15 L433.65,186.95 L433.83,187.75 L434.01,188.54 L434.19,189.34 L434.37,190.13 L434.55,190.93 L434.73,191.72 L434.91,192.51 L435.09,193.30 L435.27,194.08 L435.45,194.87 L435.63,195.65 L435.81,196.43 L435.99,197.21 L436.17,197.98 L436.34,198.75 L436.52,199.51 L436.70,200.27 L436.88,201.03 L437.06,201.78 L437.24,202.53 L437.42,203.27 L437.60,204.01 L437.78,204.74 L437.96,205.46 L438.14,206.18 L438.32,206.90 L438.50,207.61 L438.68,208.31 L438.86,209.00 L439.04,209.69 L439.21,210.37 L439.44,211.21 L439.66,212.04 L439.89,212.85 L440.11,213.66 L440.34,214.45 L440.56,215.22 L440.78,215.99 L441.01,216.74 L441.23,217.47 L441.46,218.19 L441.68,218.90 L441.90,219.59 L442.13,220.26 L442.40,221.05 L442.67,221.82 L442.94,222.56 L443.20,223.27 L443.47,223.96 L443.74,224.63 L444.06,225.38 L444.37,226.09 L444.68,226.76 L445.00,227.40 L445.36,228.08 L445.72,228.71 L446.12,229.37 L446.52,229.96 L446.97,230.54 L447.46,231.08 L448.00,231.57 L448.58,231.96 L449.26,232.24 L449.97,232.33 L450.69,232.22 L451.36,231.92 L451.95,231.52 L452.49,231.03 L452.98,230.49 L453.43,229.91 L453.83,229.33 L454.23,228.69 L454.59,228.08 L454.95,227.41 L455.31,226.71 L455.62,226.05 L455.94,225.37 L456.25,224.65 L456.57,223.90 L456.83,223.24 L457.10,222.55 L457.37,221.84 L457.64,221.11 L457.91,220.36 L458.18,219.59 L458.45,218.80 L458.67,218.13 L458.90,217.45 L459.12,216.75 L459.35,216.04 L459.57,215.32 L459.79,214.59 L460.02,213.85 L460.24,213.09 L460.47,212.33 L460.69,211.56 L460.91,210.77 L461.14,209.98 L461.36,209.17 L461.59,208.36 L461.81,207.54 L462.04,206.71 L462.26,205.87 L462.48,205.03 L462.66,204.35 L462.84,203.66 L463.02,202.97 L463.20,202.28 L463.38,201.58 L463.56,200.88 L463.74,200.17 L463.92,199.46 L464.10,198.75 L464.28,198.03 L464.46,197.32 L464.64,196.59 L464.82,195.87 L464.99,195.14 L465.17,194.41 L465.35,193.68 L465.53,192.95 L465.71,192.21 L465.89,191.47 L466.07,190.74 L466.25,190.00 L466.43,189.25 L466.61,188.51 L466.79,187.77 L466.97,187.02 L467.15,186.28 L467.33,185.53 L467.51,184.79 L467.68,184.04 L467.86,183.29 L468.04,182.55 L468.22,181.80 L468.40,181.06 L468.58,180.31 L468.76,179.57 L468.94,178.83 L469.12,178.08 L469.30,177.34 L469.48,176.60 L469.66,175.87 L469.84,175.13 L470.02,174.40 L470.20,173.66 L470.37,172.93 L470.55,172.21 L470.73,171.48 L470.91,170.76 L471.09,170.04 L471.27,169.32 L471.45,168.60 L471.63,167.89 L471.81,167.18 L471.99,166.48 L472.17,165.78 L472.35,165.08 L472.53,164.38 L472.71,163.69 L472.89,163.01 L473.06,162.32 L473.24,161.65 L473.47,160.80 L473.69,159.97 L473.92,159.14 L474.14,158.32 L474.37,157.51 L474.59,156.71 L474.81,155.91 L475.04,155.12 L475.26,154.34 L475.49,153.57 L475.71,152.81 L475.93,152.06 L476.16,151.31 L476.38,150.58 L476.61,149.86 L476.83,149.14 L477.06,148.44 L477.28,147.74 L477.50,147.06 L477.73,146.39 L478.00,145.59 L478.27,144.81 L478.53,144.05 L478.80,143.30 L479.07,142.57 L479.34,141.86 L479.61,141.16 L479.88,140.48 L480.15,139.81 L480.42,139.17 L480.73,138.43 L481.05,137.72 L481.36,137.04 L481.67,136.37 L481.99,135.73 L482.35,135.03 L482.70,134.37 L483.06,133.73 L483.42,133.13 L483.83,132.49 L484.23,131.89 L484.68,131.27 L485.13,130.70 L485.62,130.14 L486.11,129.63 L486.65,129.16 L487.23,128.72 L487.86,128.34 L488.53,128.04 L489.25,127.84 L489.97,127.76 L490.68,127.80 L491.40,127.96 L492.07,128.20 L492.70,128.52 L493.33,128.91 L493.91,129.35 L494.45,129.80 L494.99,130.31 L495.48,130.82 L495.98,131.37 L496.47,131.96 L496.92,132.53 L497.37,133.13 L497.81,133.75 L498.22,134.34 L498.62,134.94 L499.02,135.56 L499.43,136.21 L499.83,136.87 L500.19,137.47 L500.55,138.08 L500.91,138.71 L501.27,139.35 L501.62,139.99 L501.98,140.65 L502.34,141.32 L502.70,141.99 L503.06,142.67 L503.42,143.36 L503.78,144.06 L504.14,144.76 L504.49,145.46 L504.85,146.17 L505.21,146.89 L505.53,147.51 L505.84,148.14 L506.15,148.77 L506.47,149.40 L506.78,150.03 L507.09,150.66 L507.41,151.29 L507.72,151.92 L508.04,152.55 L508.35,153.18 L508.71,153.89 L509.07,154.60 L509.43,155.31 L509.78,156.01 L510.14,156.70 L510.50,157.39 L510.86,158.07 L511.22,158.74 L511.58,159.41 L511.94,160.07 L512.30,160.71 L512.65,161.35 L513.01,161.98 L513.37,162.59 L513.73,163.20 L514.13,163.86 L514.54,164.51 L514.94,165.14 L515.34,165.75 L515.75,166.35 L516.15,166.92 L516.60,167.54 L517.05,168.13 L517.50,168.70 L517.94,169.24 L518.44,169.81 L518.93,170.34 L519.47,170.88 L520.01,171.38 L520.55,171.83 L521.13,172.28 L521.71,172.67 L522.34,173.04 L523.01,173.36 L523.68,173.61 L524.40,173.80 L525.12,173.91 L525.84,173.93 L526.55,173.87 L527.27,173.72 L527.94,173.51 L528.62,173.22 L529.24,172.88 L529.87,172.49 L530.45,172.06 L531.04,171.58 L531.57,171.09 L532.11,170.56 L532.61,170.04 L533.10,169.48 L533.55,168.94 L534.00,168.37 L534.44,167.77 L534.89,167.15 L535.30,166.57 L535.70,165.96 L536.10,165.34 L536.51,164.69 L536.91,164.03 L537.27,163.42 L537.63,162.80 L537.99,162.16 L538.34,161.51 L538.70,160.84 L539.06,160.17 L539.42,159.47 L539.78,158.77 L540.09,158.14 L540.41,157.50 L540.72,156.86 L541.03,156.20 L541.35,155.54 L541.66,154.87 L541.98,154.19 L542.29,153.50 L542.60,152.81 L542.92,152.10 L543.23,151.40 L543.55,150.68 L543.86,149.96 L544.17,149.23 L544.49,148.50 L544.80,147.76 L545.11,147.02 L545.43,146.27 L545.74,145.52 L546.06,144.77 L546.33,144.12 L546.59,143.47 L546.86,142.82 L547.13,142.16 L547.40,141.51 L547.67,140.85 L547.94,140.19 L548.21,139.53 L548.48,138.87 L548.75,138.21 L549.02,137.55 L549.28,136.89 L549.55,136.23 L549.82,135.57 L550.09,134.91 L550.36,134.25 L550.63,133.60 L550.90,132.94 L551.17,132.29 L551.44,131.63 L551.71,130.98 L551.97,130.33 L552.24,129.69 L552.56,128.93 L552.87,128.19 L553.18,127.44 L553.50,126.70 L553.81,125.97 L554.13,125.23 L554.44,124.51 L554.75,123.79 L555.07,123.07 L555.38,122.36 L555.70,121.66 L556.01,120.97 L556.32,120.28 L556.64,119.60 L556.95,118.92 L557.26,118.25 L557.58,117.60 L557.89,116.94 L558.21,116.30 L558.52,115.67 L558.88,114.96 L559.24,114.26 L559.60,113.57 L559.96,112.90 L560.31,112.24 L560.67,111.59 L561.03,110.96 L561.39,110.34 L561.75,109.74 L562.15,109.08 L562.56,108.44 L562.96,107.82 L563.36,107.22 L563.77,106.65 L564.21,106.04 L564.66,105.45 L565.11,104.89 L565.60,104.31 L566.10,103.77 L566.59,103.26 L567.13,102.75 L567.67,102.29 L568.25,101.84 L568.83,101.44 L569.46,101.08 L570.13,100.76 L570.81,100.51 L571.52,100.34 L572.24,100.25 L572.96,100.25 L573.67,100.34 L574.39,100.52 L575.06,100.76 L575.74,101.08 L576.36,101.45 L576.95,101.85 L577.53,102.30 L578.07,102.77 L578.61,103.29 L579.10,103.80 L579.59,104.35 L580.09,104.93 L580.53,105.50 L580.98,106.09 L581.43,106.71 L581.83,107.29 L582.24,107.89 L582.64,108.51 L583.05,109.16 L583.45,109.82 L583.81,110.42 L584.17,111.04 L584.52,111.68 L584.88,112.32 L585.24,112.98 L585.60,113.65 L585.96,114.34 L586.32,115.03 L586.68,115.74 L586.99,116.37 L587.30,117.00 L587.62,117.64 L587.93,118.29 L588.25,118.94 L588.56,119.60 L588.87,120.27 L589.19,120.94 L589.50,121.61 L589.82,122.29 L590.13,122.97 L590.44,123.66 L590.76,124.35 L591.07,125.04 L591.38,125.73 L591.70,126.43 L592.01,127.13 L592.33,127.82 L592.64,128.52 L592.95,129.21 L593.27,129.91 L593.58,130.60 L593.90,131.29 L594.21,131.98 L594.52,132.67 L594.84,133.35 L595.15,134.02 L595.46,134.69 L595.78,135.36 L596.09,136.02 L596.41,136.67 L596.72,137.32 L597.03,137.96 L597.35,138.59 L597.71,139.30 L598.06,140.00 L598.42,140.68 L598.78,141.36 L599.14,142.01 L599.50,142.65 L599.86,143.28 L600.22,143.89 L600.62,144.55 L601.02,145.19 L601.43,145.80 L601.83,146.39 L602.28,147.02 L602.73,147.61 L603.18,148.16 L603.67,148.72 L604.16,149.24 L604.70,149.75 L605.24,150.20 L605.82,150.62 L606.45,150.98 L607.12,151.27 L607.84,151.46 L608.56,151.52 L609.27,151.45 L609.99,151.24 L610.66,150.93 L611.29,150.52 L611.87,150.05 L612.41,149.53 L612.91,148.98 L613.35,148.42 L613.80,147.81 L614.21,147.21 L614.61,146.56 L614.97,145.95 L615.33,145.31 L615.68,144.62 L616.00,144.00 L616.31,143.35 L616.63,142.67 L616.94,141.96 L617.25,141.23 L617.52,140.58 L617.79,139.91 L618.06,139.23 L618.33,138.52 L618.60,137.80 L618.87,137.06 L619.14,136.29 L619.41,135.52 L619.68,134.72 L619.90,134.04 L620.12,133.35 L620.35,132.65 L620.57,131.94 L620.80,131.22 L621.02,130.48 L621.24,129.73 L621.47,128.97 L621.69,128.20 L621.92,127.42 L622.14,126.63 L622.37,125.83 L622.59,125.01 L622.81,124.19 L623.04,123.36 L623.26,122.51 L623.44,121.83 L623.62,121.15 L623.80,120.45 L623.98,119.75 L624.16,119.05 L624.34,118.34 L624.52,117.62 L624.70,116.90 L624.88,116.17 L625.06,115.44 L625.23,114.70 L625.41,113.96 L625.59,113.21 L625.77,112.46 L625.95,111.70 L626.13,110.94 L626.31,110.18 L626.49,109.41 L626.67,108.64 L626.85,107.86 L627.03,107.08 L627.21,106.29 L627.39,105.51 L627.57,104.72 L627.75,103.92 L627.92,103.12 L628.10,102.33 L628.28,101.52 L628.46,100.72 L628.64,99.91 L628.82,99.10 L629.00,98.29 L629.18,97.48 L629.36,96.67 L629.54,95.85 L629.72,95.03 L629.90,94.22 L630.08,93.40 L630.26,92.58 L630.44,91.76 L630.62,90.94 L630.79,90.12 L630.97,89.30 L631.15,88.48 L631.33,87.66 L631.51,86.84 L631.69,86.02 L631.87,85.20 L632.05,84.39 L632.23,83.57 L632.41,82.76 L632.59,81.95 L632.77,81.14 L632.95,80.33 L633.13,79.53 L633.31,78.73 L633.48,77.93 L633.66,77.13 L633.84,76.34 L634.02,75.55 L634.20,74.76 L634.38,73.98 L634.56,73.20 L634.74,72.42 L634.92,71.65 L635.10,70.88 L635.28,70.12 L635.46,69.36 L635.64,68.61 L635.82,67.87 L636.00,67.12 L636.17,66.39 L636.35,65.66 L636.53,64.93 L636.71,64.21 L636.89,63.50 L637.07,62.79 L637.25,62.09 L637.43,61.40 L637.61,60.72 L637.79,60.04 L638.01,59.20 L638.24,58.37 L638.46,57.56 L638.69,56.75 L638.91,55.96 L639.13,55.19 L639.36,54.42 L639.58,53.67 L639.81,52.94 L640.03,52.22 L640.25,51.51 L640.48,50.82 L640.70,50.14 L640.97,49.35 L641.24,48.58 L641.51,47.83 L641.78,47.11 L642.05,46.41 L642.32,45.74 L642.59,45.09 L642.90,44.37 L643.21,43.68 L643.53,43.03 L643.89,42.33 L644.24,41.68 L644.65,41.01 L645.05,40.40 L645.50,39.80 L645.99,39.24 L646.53,38.75 L647.11,38.36 L647.79,38.09 L648.50,38.02 L649.22,38.18 L649.85,38.52 L650.43,38.99 L650.93,39.51 L651.37,40.07 L651.78,40.66 L652.18,41.32 L652.54,41.96 L652.90,42.66 L653.21,43.32 L653.53,44.02 L653.84,44.76 L654.11,45.43 L654.38,46.12 L654.65,46.85 L654.92,47.60 L655.18,48.38 L655.41,49.05 L655.63,49.74 L655.86,50.45 L656.08,51.18 L656.31,51.92 L656.53,52.69 L656.75,53.46 L656.98,54.26 L657.20,55.07 L657.43,55.90 L657.65,56.75 L657.83,57.43 L658.01,58.13 L658.19,58.84 L658.37,59.55 L658.55,60.28 L658.73,61.01 L658.91,61.75 L659.09,62.50 L659.26,63.26 L659.44,64.03 L659.62,64.80 L659.80,65.59 L659.98,66.38 L660.16,67.17 L660.34,67.98 L660.52,68.79 L660.70,69.61 L660.88,70.43 L661.06,71.26 L661.24,72.09 L661.42,72.94 L661.60,73.78 L661.78,74.63 L661.95,75.49 L662.13,76.35 L662.31,77.22 L662.49,78.09 L662.67,78.96 L662.85,79.83 L663.03,80.71 L663.21,81.60 L663.39,82.48 L663.57,83.37 L663.75,84.26 L663.93,85.15 L664.11,86.04 L664.29,86.94 L664.47,87.83 L664.64,88.73 L664.82,89.63 L665.00,90.52 L665.18,91.42 L665.36,92.31 L665.54,93.21 L665.72,94.10 L665.90,94.99 L666.08,95.88 L666.26,96.77 L666.44,97.66 L666.62,98.54 L666.80,99.42 L666.98,100.30 L667.16,101.18 L667.33,102.05 L667.51,102.91 L667.69,103.77 L667.87,104.63 L668.05,105.48 L668.23,106.33 L668.41,107.17 L668.59,108.00 L668.77,108.83 L668.95,109.66 L669.13,110.47 L669.31,111.28 L669.49,112.08 L669.67,112.88 L669.85,113.66 L670.02,114.44 L670.20,115.21 L670.38,115.97 L670.56,116.72 L670.74,117.46 L670.92,118.20 L671.10,118.92 L671.28,119.63 L671.46,120.33 L671.64,121.03 L671.82,121.71 L672.04,122.55 L672.27,123.37 L672.49,124.17 L672.72,124.96 L672.94,125.72 L673.16,126.47 L673.39,127.20 L673.61,127.91 L673.84,128.60 L674.06,129.27 L674.33,130.05 L674.60,130.80 L674.87,131.52 L675.14,132.21 L675.41,132.88 L675.72,133.61 L676.03,134.31 L676.35,134.96 L676.71,135.66 L677.06,136.31 L677.47,136.98 L677.87,137.58 L678.32,138.17 L678.81,138.74 L679.35,139.26 L679.93,139.71 L680.56,140.07 L681.23,140.34 L681.95,140.51 L682.67,140.58 L683.39,140.60 L683.61,140.60" stroke="#0000ff" stroke-width="2.1" fill="none" stroke-linejoin="round" stroke-linecap="butt"/></g>
<g clip-path="url(#cC)"><path d="M62.50,419.30 L63.18,419.52 L63.74,420.01 L64.19,420.59 L64.60,421.24 L64.94,421.86 L65.28,422.54 L65.58,423.21 L65.88,423.92 L66.14,424.57 L66.40,425.26 L66.67,425.98 L66.93,426.73 L67.19,427.50 L67.42,428.18 L67.64,428.87 L67.87,429.59 L68.09,430.31 L68.32,431.05 L68.54,431.81 L68.77,432.57 L68.99,433.35 L69.22,434.13 L69.44,434.93 L69.67,435.73 L69.89,436.54 L70.08,437.22 L70.27,437.91 L70.46,438.59 L70.64,439.28 L70.83,439.97 L71.02,440.67 L71.21,441.36 L71.39,442.06 L71.58,442.75 L71.77,443.45 L71.96,444.15 L72.14,444.84 L72.33,445.54 L72.52,446.23 L72.71,446.92 L72.90,447.60 L73.08,448.29 L73.27,448.97 L73.46,449.64 L73.68,450.45 L73.91,451.25 L74.13,452.04 L74.36,452.83 L74.58,453.60 L74.81,454.37 L75.03,455.12 L75.26,455.87 L75.48,456.60 L75.71,457.33 L75.93,458.04 L76.16,458.74 L76.39,459.42 L76.61,460.09 L76.87,460.86 L77.14,461.60 L77.40,462.33 L77.66,463.03 L77.92,463.71 L78.19,464.37 L78.49,465.10 L78.79,465.79 L79.09,466.46 L79.42,467.17 L79.76,467.83 L80.10,468.46 L80.48,469.11 L80.85,469.70 L81.26,470.29 L81.71,470.86 L82.20,471.39 L82.73,471.86 L83.33,472.27 L84.00,472.56 L84.72,472.68 L85.43,472.61 L86.10,472.37 L86.74,471.99 L87.31,471.53 L87.83,471.00 L88.32,470.43 L88.77,469.83 L89.18,469.22 L89.56,468.62 L89.93,467.97 L90.27,467.34 L90.61,466.69 L90.95,465.99 L91.25,465.35 L91.55,464.67 L91.85,463.98 L92.15,463.25 L92.41,462.59 L92.67,461.92 L92.93,461.23 L93.20,460.52 L93.46,459.79 L93.72,459.04 L93.99,458.28 L94.21,457.61 L94.44,456.94 L94.66,456.25 L94.89,455.55 L95.11,454.84 L95.34,454.12 L95.56,453.39 L95.79,452.65 L96.01,451.91 L96.24,451.15 L96.46,450.39 L96.69,449.62 L96.91,448.84 L97.14,448.06 L97.36,447.27 L97.59,446.47 L97.81,445.67 L98.04,444.86 L98.23,444.19 L98.41,443.51 L98.60,442.82 L98.79,442.14 L98.98,441.45 L99.16,440.76 L99.35,440.07 L99.54,439.38 L99.73,438.69 L99.91,437.99 L100.10,437.30 L100.29,436.60 L100.48,435.90 L100.67,435.20 L100.85,434.51 L101.04,433.81 L101.23,433.11 L101.42,432.42 L101.60,431.72 L101.79,431.03 L101.98,430.33 L102.17,429.64 L102.35,428.95 L102.54,428.26 L102.73,427.57 L102.92,426.89 L103.10,426.20 L103.29,425.52 L103.48,424.85 L103.67,424.17 L103.89,423.37 L104.12,422.56 L104.34,421.77 L104.57,420.97 L104.79,420.19 L105.02,419.41 L105.24,418.63 L105.47,417.86 L105.69,417.10 L105.92,416.34 L106.14,415.59 L106.37,414.85 L106.59,414.12 L106.82,413.39 L107.05,412.67 L107.27,411.96 L107.50,411.26 L107.72,410.57 L107.95,409.88 L108.17,409.21 L108.40,408.54 L108.66,407.78 L108.92,407.03 L109.18,406.30 L109.45,405.58 L109.71,404.88 L109.97,404.19 L110.23,403.52 L110.50,402.87 L110.80,402.14 L111.10,401.44 L111.40,400.76 L111.70,400.10 L112.00,399.47 L112.34,398.79 L112.67,398.13 L113.01,397.51 L113.39,396.86 L113.76,396.24 L114.18,395.61 L114.59,395.03 L115.04,394.45 L115.53,393.88 L116.05,393.35 L116.61,392.86 L117.22,392.44 L117.85,392.09 L118.53,391.84 L119.24,391.69 L119.95,391.67 L120.67,391.76 L121.34,391.95 L122.02,392.22 L122.66,392.56 L123.26,392.93 L123.86,393.37 L124.42,393.82 L124.98,394.31 L125.51,394.80 L126.03,395.32 L126.52,395.83 L127.01,396.35 L127.50,396.89 L127.99,397.45 L128.47,398.01 L128.96,398.59 L129.41,399.13 L129.86,399.67 L130.31,400.21 L130.76,400.76 L131.21,401.31 L131.66,401.85 L132.11,402.39 L132.56,402.93 L133.05,403.51 L133.54,404.07 L134.03,404.62 L134.52,405.16 L135.00,405.69 L135.49,406.19 L136.02,406.71 L136.54,407.20 L137.10,407.68 L137.67,408.13 L138.27,408.55 L138.87,408.92 L139.51,409.25 L140.18,409.53 L140.86,409.72 L141.57,409.84 L142.28,409.87 L143.00,409.81 L143.71,409.66 L144.39,409.44 L145.06,409.14 L145.70,408.79 L146.30,408.41 L146.90,407.97 L147.46,407.51 L148.03,407.02 L148.55,406.52 L149.08,405.99 L149.56,405.48 L150.05,404.95 L150.54,404.39 L151.03,403.83 L151.52,403.25 L151.97,402.71 L152.42,402.16 L152.87,401.60 L153.32,401.05 L153.77,400.49 L154.22,399.93 L154.67,399.37 L155.12,398.82 L155.57,398.27 L156.02,397.73 L156.51,397.15 L156.99,396.58 L157.48,396.02 L157.97,395.48 L158.46,394.96 L158.95,394.46 L159.47,393.94 L160.00,393.46 L160.56,392.97 L161.12,392.52 L161.72,392.10 L162.32,391.72 L162.96,391.38 L163.64,391.09 L164.31,390.88 L165.03,390.74 L165.74,390.69 L166.45,390.73 L167.16,390.85 L167.84,391.05 L168.52,391.33 L169.15,391.66 L169.75,392.02 L170.35,392.44 L170.92,392.87 L171.48,393.35 L172.01,393.83 L172.53,394.34 L173.02,394.85 L173.51,395.38 L173.99,395.93 L174.48,396.51 L174.93,397.05 L175.38,397.62 L175.83,398.20 L176.28,398.78 L176.73,399.39 L177.18,399.99 L177.63,400.61 L178.05,401.18 L178.46,401.75 L178.87,402.32 L179.29,402.90 L179.70,403.47 L180.11,404.04 L180.56,404.65 L181.01,405.26 L181.46,405.86 L181.91,406.45 L182.36,407.03 L182.81,407.59 L183.26,408.14 L183.75,408.72 L184.24,409.28 L184.73,409.81 L185.21,410.32 L185.74,410.84 L186.27,411.33 L186.83,411.81 L187.39,412.25 L187.99,412.66 L188.59,413.03 L189.23,413.35 L189.91,413.62 L190.58,413.82 L191.29,413.94 L192.01,413.98 L192.72,413.93 L193.43,413.79 L194.11,413.58 L194.78,413.28 L195.42,412.93 L196.02,412.53 L196.59,412.09 L197.11,411.62 L197.64,411.11 L198.12,410.58 L198.61,410.01 L199.06,409.44 L199.51,408.84 L199.93,408.26 L200.34,407.65 L200.75,407.01 L201.13,406.41 L201.50,405.79 L201.88,405.15 L202.25,404.48 L202.63,403.81 L202.97,403.18 L203.30,402.54 L203.64,401.89 L203.98,401.23 L204.32,400.56 L204.65,399.88 L204.99,399.19 L205.33,398.49 L205.67,397.78 L205.97,397.15 L206.27,396.51 L206.57,395.87 L206.87,395.22 L207.17,394.57 L207.47,393.92 L207.77,393.26 L208.07,392.61 L208.37,391.95 L208.67,391.29 L208.97,390.63 L209.27,389.97 L209.57,389.31 L209.87,388.66 L210.17,388.00 L210.47,387.35 L210.77,386.70 L211.07,386.05 L211.37,385.40 L211.67,384.77 L211.97,384.13 L212.31,383.42 L212.65,382.72 L212.99,382.03 L213.32,381.35 L213.66,380.68 L214.00,380.02 L214.34,379.37 L214.67,378.74 L215.01,378.11 L215.39,377.44 L215.76,376.78 L216.14,376.15 L216.51,375.54 L216.89,374.94 L217.30,374.32 L217.71,373.72 L218.13,373.15 L218.58,372.57 L219.03,372.02 L219.52,371.47 L220.00,370.96 L220.53,370.47 L221.09,370.00 L221.69,369.58 L222.33,369.21 L223.01,368.93 L223.72,368.76 L224.43,368.73 L225.14,368.83 L225.82,369.06 L226.46,369.40 L227.06,369.83 L227.62,370.32 L228.15,370.86 L228.63,371.42 L229.08,372.00 L229.50,372.57 L229.91,373.18 L230.29,373.78 L230.66,374.41 L231.04,375.07 L231.37,375.69 L231.71,376.35 L232.05,377.03 L232.39,377.74 L232.69,378.39 L232.99,379.06 L233.29,379.76 L233.59,380.48 L233.85,381.13 L234.11,381.80 L234.38,382.48 L234.64,383.19 L234.90,383.91 L235.16,384.65 L235.43,385.40 L235.69,386.18 L235.91,386.85 L236.14,387.55 L236.36,388.25 L236.59,388.97 L236.82,389.70 L237.04,390.44 L237.27,391.20 L237.49,391.97 L237.72,392.75 L237.94,393.54 L238.17,394.35 L238.35,395.03 L238.54,395.72 L238.73,396.42 L238.92,397.13 L239.10,397.84 L239.29,398.57 L239.48,399.30 L239.67,400.04 L239.85,400.79 L240.04,401.55 L240.23,402.31 L240.42,403.08 L240.61,403.86 L240.79,404.65 L240.98,405.44 L241.17,406.24 L241.36,407.05 L241.54,407.86 L241.73,408.68 L241.92,409.51 L242.11,410.35 L242.29,411.19 L242.48,412.03 L242.67,412.89 L242.82,413.57 L242.97,414.26 L243.12,414.96 L243.27,415.65 L243.42,416.35 L243.57,417.06 L243.72,417.76 L243.87,418.47 L244.02,419.18 L244.17,419.90 L244.32,420.62 L244.47,421.34 L244.62,422.06 L244.77,422.78 L244.92,423.51 L245.07,424.24 L245.22,424.97 L245.37,425.70 L245.52,426.44 L245.67,427.17 L245.82,427.91 L245.97,428.65 L246.12,429.39 L246.27,430.13 L246.42,430.87 L246.57,431.62 L246.72,432.36 L246.87,433.10 L247.02,433.84 L247.17,434.59 L247.32,435.33 L247.47,436.07 L247.62,436.82 L247.77,437.56 L247.92,438.30 L248.07,439.04 L248.22,439.78 L248.37,440.52 L248.52,441.26 L248.67,441.99 L248.82,442.73 L248.97,443.46 L249.12,444.19 L249.27,444.92 L249.42,445.65 L249.57,446.38 L249.72,447.10 L249.87,447.82 L250.02,448.54 L250.18,449.26 L250.33,449.97 L250.48,450.68 L250.63,451.39 L250.78,452.09 L250.93,452.79 L251.08,453.49 L251.23,454.19 L251.38,454.88 L251.53,455.56 L251.68,456.25 L251.86,457.10 L252.05,457.94 L252.24,458.78 L252.43,459.61 L252.61,460.43 L252.80,461.25 L252.99,462.06 L253.18,462.86 L253.36,463.65 L253.55,464.44 L253.74,465.22 L253.93,465.99 L254.12,466.75 L254.30,467.50 L254.49,468.25 L254.68,468.99 L254.87,469.71 L255.05,470.43 L255.24,471.14 L255.43,471.84 L255.62,472.53 L255.80,473.21 L256.03,474.02 L256.25,474.81 L256.48,475.58 L256.70,476.34 L256.93,477.09 L257.16,477.82 L257.38,478.53 L257.61,479.23 L257.83,479.91 L258.06,480.57 L258.32,481.33 L258.58,482.06 L258.84,482.77 L259.11,483.45 L259.37,484.10 L259.67,484.82 L259.97,485.51 L260.27,486.15 L260.61,486.84 L260.95,487.48 L261.32,488.13 L261.73,488.77 L262.15,489.34 L262.63,489.90 L263.16,490.39 L263.76,490.78 L264.44,491.00 L265.15,490.98 L265.82,490.72 L266.42,490.28 L266.95,489.75 L267.40,489.17 L267.81,488.56 L268.19,487.92 L268.53,487.29 L268.86,486.60 L269.16,485.94 L269.46,485.24 L269.76,484.49 L270.03,483.81 L270.29,483.10 L270.55,482.35 L270.82,481.58 L271.04,480.89 L271.27,480.19 L271.49,479.46 L271.72,478.71 L271.94,477.95 L272.17,477.16 L272.39,476.36 L272.58,475.68 L272.77,474.98 L272.95,474.27 L273.14,473.55 L273.33,472.82 L273.52,472.08 L273.70,471.33 L273.89,470.56 L274.08,469.79 L274.27,469.00 L274.46,468.20 L274.64,467.40 L274.83,466.58 L275.02,465.76 L275.21,464.93 L275.39,464.09 L275.58,463.24 L275.73,462.55 L275.88,461.86 L276.03,461.17 L276.18,460.47 L276.33,459.77 L276.48,459.06 L276.63,458.35 L276.78,457.64 L276.93,456.92 L277.08,456.20 L277.23,455.48 L277.38,454.76 L277.53,454.03 L277.68,453.30 L277.83,452.58 L277.98,451.85 L278.13,451.12 L278.28,450.39 L278.43,449.66 L278.58,448.93 L278.73,448.20 L278.88,447.47 L279.03,446.74 L279.18,446.02 L279.33,445.30 L279.48,444.58 L279.63,443.86 L279.78,443.15 L279.93,442.44 L280.08,441.73 L280.23,441.03 L280.38,440.33 L280.53,439.64 L280.68,438.95 L280.87,438.10 L281.06,437.26 L281.25,436.43 L281.44,435.61 L281.62,434.80 L281.81,434.00 L282.00,433.22 L282.19,432.45 L282.37,431.70 L282.56,430.96 L282.75,430.24 L282.94,429.53 L283.12,428.84 L283.35,428.04 L283.57,427.26 L283.80,426.52 L284.02,425.80 L284.25,425.11 L284.51,424.35 L284.78,423.64 L285.04,422.97 L285.34,422.27 L285.64,421.64 L285.98,421.01 L286.35,420.41 L286.80,419.86 L287.36,419.42 L287.66,419.30" stroke="#ff0000" stroke-width="2.1" fill="none" stroke-linejoin="round" stroke-linecap="butt"/></g>
<g clip-path="url(#cC)"><path d="M62.50,419.30 L63.08,419.70 L63.44,420.32 L63.75,421.07 L64.02,421.86 L64.24,422.61 L64.46,423.44 L64.64,424.17 L64.82,424.94 L65.00,425.76 L65.18,426.61 L65.36,427.51 L65.49,428.21 L65.62,428.93 L65.76,429.67 L65.89,430.43 L66.03,431.21 L66.16,432.00 L66.29,432.81 L66.43,433.64 L66.56,434.48 L66.69,435.34 L66.83,436.21 L66.96,437.09 L67.10,437.99 L67.23,438.89 L67.36,439.81 L67.50,440.74 L67.63,441.68 L67.77,442.62 L67.90,443.58 L68.03,444.54 L68.17,445.51 L68.30,446.49 L68.44,447.47 L68.57,448.46 L68.70,449.46 L68.84,450.46 L68.97,451.46 L69.10,452.47 L69.24,453.48 L69.37,454.50 L69.51,455.51 L69.64,456.53 L69.77,457.55 L69.91,458.57 L70.04,459.59 L70.18,460.62 L70.31,461.64 L70.44,462.66 L70.58,463.68 L70.71,464.69 L70.84,465.71 L70.98,466.72 L71.11,467.73 L71.25,468.74 L71.38,469.74 L71.51,470.74 L71.65,471.73 L71.78,472.72 L71.92,473.70 L72.05,474.68 L72.18,475.65 L72.32,476.61 L72.45,477.57 L72.59,478.52 L72.72,479.46 L72.85,480.40 L72.99,481.33 L73.12,482.24 L73.25,483.15 L73.39,484.05 L73.52,484.94 L73.66,485.82 L73.79,486.69 L73.92,487.55 L74.06,488.40 L74.19,489.24 L74.33,490.07 L74.46,490.88 L74.59,491.68 L74.73,492.47 L74.86,493.25 L75.00,494.02 L75.13,494.77 L75.26,495.51 L75.40,496.24 L75.53,496.95 L75.66,497.65 L75.84,498.56 L76.02,499.45 L76.20,500.31 L76.38,501.14 L76.56,501.95 L76.74,502.73 L76.91,503.48 L77.09,504.21 L77.27,504.90 L77.49,505.73 L77.72,506.52 L77.94,507.26 L78.16,507.96 L78.43,508.74 L78.70,509.45 L79.01,510.19 L79.32,510.84 L79.68,511.47 L80.13,512.10 L80.66,512.59 L81.33,512.83 L82.00,512.65 L82.58,512.16 L83.03,511.57 L83.38,510.97 L83.74,510.25 L84.05,509.53 L84.32,508.84 L84.59,508.10 L84.81,507.43 L85.04,506.72 L85.26,505.96 L85.48,505.17 L85.70,504.33 L85.88,503.64 L86.06,502.92 L86.24,502.17 L86.42,501.40 L86.60,500.60 L86.78,499.78 L86.95,498.94 L87.13,498.07 L87.31,497.18 L87.49,496.27 L87.62,495.57 L87.76,494.86 L87.89,494.13 L88.03,493.40 L88.16,492.65 L88.29,491.89 L88.43,491.12 L88.56,490.33 L88.69,489.54 L88.83,488.73 L88.96,487.91 L89.10,487.08 L89.23,486.24 L89.36,485.39 L89.50,484.53 L89.63,483.66 L89.77,482.78 L89.90,481.89 L90.03,480.99 L90.17,480.08 L90.30,479.15 L90.44,478.22 L90.57,477.29 L90.70,476.34 L90.84,475.38 L90.97,474.42 L91.10,473.44 L91.24,472.46 L91.37,471.47 L91.51,470.47 L91.64,469.47 L91.77,468.45 L91.91,467.43 L92.04,466.40 L92.18,465.37 L92.31,464.33 L92.40,463.63 L92.49,462.93 L92.58,462.23 L92.67,461.52 L92.76,460.81 L92.84,460.10 L92.93,459.39 L93.02,458.67 L93.11,457.95 L93.20,457.23 L93.29,456.50 L93.38,455.78 L93.47,455.05 L93.56,454.32 L93.65,453.58 L93.74,452.85 L93.83,452.11 L93.92,451.37 L94.01,450.63 L94.09,449.89 L94.18,449.15 L94.27,448.40 L94.36,447.65 L94.45,446.90 L94.54,446.15 L94.63,445.40 L94.72,444.65 L94.81,443.89 L94.90,443.13 L94.99,442.38 L95.08,441.62 L95.17,440.86 L95.25,440.10 L95.34,439.34 L95.43,438.57 L95.52,437.81 L95.61,437.05 L95.70,436.28 L95.79,435.51 L95.88,434.75 L95.97,433.98 L96.06,433.21 L96.15,432.45 L96.24,431.68 L96.33,430.91 L96.41,430.14 L96.50,429.37 L96.59,428.60 L96.68,427.83 L96.77,427.07 L96.86,426.30 L96.95,425.53 L97.04,424.76 L97.13,423.99 L97.22,423.22 L97.31,422.45 L97.40,421.69 L97.49,420.92 L97.58,420.15 L97.66,419.39 L97.75,418.62 L97.84,417.86 L97.93,417.09 L98.02,416.33 L98.11,415.57 L98.20,414.81 L98.29,414.05 L98.38,413.29 L98.47,412.53 L98.56,411.78 L98.65,411.02 L98.74,410.27 L98.82,409.51 L98.91,408.76 L99.00,408.01 L99.09,407.26 L99.18,406.51 L99.27,405.77 L99.36,405.02 L99.45,404.28 L99.54,403.54 L99.63,402.80 L99.72,402.07 L99.81,401.33 L99.90,400.60 L99.98,399.87 L100.07,399.14 L100.16,398.41 L100.25,397.69 L100.34,396.96 L100.43,396.24 L100.52,395.53 L100.61,394.81 L100.70,394.10 L100.79,393.39 L100.88,392.68 L100.97,391.97 L101.06,391.27 L101.15,390.57 L101.23,389.87 L101.32,389.18 L101.46,388.14 L101.59,387.11 L101.73,386.09 L101.86,385.07 L101.99,384.06 L102.13,383.06 L102.26,382.06 L102.39,381.07 L102.53,380.09 L102.66,379.12 L102.80,378.15 L102.93,377.20 L103.06,376.25 L103.20,375.30 L103.33,374.37 L103.47,373.45 L103.60,372.53 L103.73,371.62 L103.87,370.72 L104.00,369.83 L104.14,368.95 L104.27,368.08 L104.40,367.22 L104.54,366.36 L104.67,365.52 L104.80,364.68 L104.94,363.86 L105.07,363.04 L105.21,362.23 L105.34,361.44 L105.47,360.65 L105.61,359.87 L105.74,359.10 L105.88,358.35 L106.01,357.60 L106.14,356.86 L106.28,356.13 L106.41,355.42 L106.54,354.71 L106.68,354.01 L106.86,353.10 L107.04,352.20 L107.21,351.33 L107.39,350.47 L107.57,349.63 L107.75,348.81 L107.93,348.01 L108.11,347.23 L108.29,346.47 L108.46,345.72 L108.64,345.00 L108.82,344.29 L109.00,343.61 L109.22,342.78 L109.45,341.98 L109.67,341.21 L109.89,340.47 L110.11,339.76 L110.34,339.08 L110.61,338.31 L110.87,337.57 L111.14,336.89 L111.45,336.14 L111.77,335.46 L112.08,334.83 L112.44,334.18 L112.84,333.55 L113.28,332.95 L113.77,332.44 L114.35,332.01 L115.02,331.76 L115.74,331.78 L116.41,332.05 L116.99,332.49 L117.48,333.00 L117.92,333.58 L118.33,334.19 L118.68,334.81 L119.04,335.48 L119.35,336.13 L119.66,336.82 L119.98,337.57 L120.24,338.24 L120.51,338.94 L120.78,339.68 L121.05,340.45 L121.27,341.12 L121.49,341.81 L121.72,342.52 L121.94,343.25 L122.16,344.00 L122.39,344.77 L122.61,345.56 L122.83,346.36 L123.06,347.19 L123.28,348.03 L123.46,348.72 L123.64,349.42 L123.81,350.13 L123.99,350.85 L124.17,351.58 L124.35,352.32 L124.53,353.07 L124.71,353.83 L124.89,354.60 L125.06,355.37 L125.24,356.16 L125.42,356.95 L125.60,357.76 L125.78,358.57 L125.96,359.39 L126.14,360.21 L126.31,361.05 L126.49,361.89 L126.67,362.74 L126.85,363.59 L127.03,364.45 L127.21,365.32 L127.38,366.19 L127.56,367.07 L127.74,367.96 L127.92,368.85 L128.10,369.74 L128.28,370.64 L128.46,371.55 L128.63,372.45 L128.81,373.37 L128.95,374.06 L129.08,374.75 L129.21,375.44 L129.35,376.13 L129.48,376.83 L129.62,377.53 L129.75,378.23 L129.88,378.93 L130.02,379.63 L130.15,380.34 L130.29,381.04 L130.42,381.75 L130.55,382.46 L130.69,383.17 L130.82,383.88 L130.95,384.59 L131.09,385.30 L131.22,386.01 L131.36,386.73 L131.49,387.44 L131.62,388.16 L131.76,388.87 L131.89,389.59 L132.03,390.30 L132.16,391.02 L132.29,391.74 L132.43,392.45 L132.56,393.17 L132.70,393.88 L132.83,394.60 L132.96,395.31 L133.10,396.03 L133.23,396.74 L133.36,397.45 L133.50,398.17 L133.63,398.88 L133.77,399.59 L133.90,400.30 L134.03,401.01 L134.17,401.71 L134.30,402.42 L134.44,403.12 L134.57,403.83 L134.70,404.53 L134.84,405.23 L134.97,405.93 L135.10,406.62 L135.24,407.32 L135.37,408.01 L135.51,408.70 L135.64,409.39 L135.82,410.30 L136.00,411.21 L136.18,412.12 L136.35,413.02 L136.53,413.92 L136.71,414.81 L136.89,415.70 L137.07,416.58 L137.25,417.46 L137.43,418.33 L137.60,419.19 L137.78,420.05 L137.96,420.91 L138.14,421.75 L138.32,422.60 L138.50,423.43 L138.67,424.26 L138.85,425.08 L139.03,425.89 L139.21,426.70 L139.39,427.50 L139.57,428.29 L139.75,429.08 L139.92,429.86 L140.10,430.63 L140.28,431.39 L140.46,432.14 L140.64,432.89 L140.82,433.62 L141.00,434.35 L141.17,435.07 L141.35,435.79 L141.53,436.49 L141.71,437.18 L141.89,437.87 L142.11,438.71 L142.33,439.54 L142.56,440.36 L142.78,441.16 L143.00,441.95 L143.23,442.72 L143.45,443.47 L143.67,444.22 L143.90,444.94 L144.12,445.66 L144.34,446.35 L144.57,447.04 L144.79,447.70 L145.06,448.48 L145.32,449.24 L145.59,449.97 L145.86,450.69 L146.13,451.38 L146.39,452.05 L146.71,452.80 L147.02,453.52 L147.33,454.21 L147.64,454.87 L147.96,455.50 L148.31,456.18 L148.67,456.82 L149.07,457.49 L149.47,458.12 L149.92,458.75 L150.37,459.32 L150.86,459.87 L151.39,460.39 L151.97,460.85 L152.60,461.23 L153.27,461.50 L153.98,461.63 L154.70,461.60 L155.41,461.42 L156.08,461.10 L156.70,460.68 L157.24,460.23 L157.77,459.69 L158.27,459.12 L158.71,458.54 L159.16,457.90 L159.56,457.28 L159.96,456.61 L160.32,455.99 L160.68,455.33 L161.03,454.63 L161.34,454.00 L161.66,453.35 L161.97,452.67 L162.28,451.98 L162.59,451.26 L162.91,450.52 L163.17,449.87 L163.44,449.21 L163.71,448.53 L163.98,447.84 L164.25,447.14 L164.51,446.42 L164.78,445.69 L165.05,444.95 L165.32,444.20 L165.58,443.44 L165.85,442.67 L166.12,441.89 L166.39,441.10 L166.61,440.43 L166.83,439.76 L167.06,439.08 L167.28,438.40 L167.50,437.71 L167.73,437.01 L167.95,436.31 L168.17,435.60 L168.40,434.89 L168.62,434.18 L168.84,433.46 L169.06,432.73 L169.29,432.00 L169.51,431.27 L169.73,430.53 L169.96,429.80 L170.18,429.05 L170.40,428.31 L170.63,427.56 L170.85,426.81 L171.07,426.05 L171.30,425.30 L171.52,424.54 L171.74,423.78 L171.97,423.01 L172.19,422.25 L172.41,421.48 L172.63,420.71 L172.86,419.94 L173.08,419.17 L173.30,418.40 L173.53,417.63 L173.75,416.86 L173.97,416.08 L174.20,415.31 L174.42,414.54 L174.64,413.77 L174.87,412.99 L175.09,412.22 L175.31,411.45 L175.54,410.68 L175.76,409.92 L175.98,409.15 L176.20,408.39 L176.43,407.62 L176.65,406.87 L176.87,406.11 L177.10,405.36 L177.32,404.61 L177.54,403.86 L177.77,403.12 L177.99,402.38 L178.21,401.65 L178.44,400.92 L178.66,400.20 L178.88,399.48 L179.11,398.76 L179.33,398.06 L179.55,397.35 L179.77,396.66 L180.00,395.97 L180.22,395.29 L180.44,394.61 L180.67,393.94 L180.89,393.27 L181.16,392.48 L181.43,391.70 L181.69,390.94 L181.96,390.18 L182.23,389.43 L182.50,388.69 L182.76,387.96 L183.03,387.24 L183.30,386.52 L183.57,385.82 L183.84,385.13 L184.10,384.45 L184.37,383.78 L184.64,383.12 L184.91,382.47 L185.22,381.72 L185.53,380.99 L185.84,380.27 L186.16,379.56 L186.47,378.87 L186.78,378.20 L187.09,377.54 L187.41,376.90 L187.76,376.19 L188.12,375.50 L188.48,374.84 L188.83,374.20 L189.19,373.59 L189.59,372.94 L189.99,372.32 L190.40,371.73 L190.84,371.13 L191.29,370.57 L191.78,370.02 L192.27,369.52 L192.81,369.04 L193.39,368.60 L194.01,368.22 L194.68,367.92 L195.39,367.71 L196.11,367.62 L196.82,367.65 L197.54,367.79 L198.20,368.03 L198.87,368.36 L199.50,368.76 L200.08,369.20 L200.61,369.67 L201.15,370.21 L201.64,370.75 L202.13,371.33 L202.58,371.91 L203.02,372.53 L203.43,373.12 L203.83,373.74 L204.23,374.39 L204.59,375.00 L204.94,375.63 L205.30,376.29 L205.66,376.97 L206.01,377.67 L206.33,378.31 L206.64,378.97 L206.95,379.64 L207.26,380.33 L207.58,381.04 L207.89,381.77 L208.20,382.52 L208.47,383.17 L208.74,383.84 L209.00,384.51 L209.27,385.20 L209.54,385.91 L209.81,386.62 L210.07,387.35 L210.34,388.08 L210.61,388.83 L210.88,389.59 L211.15,390.36 L211.41,391.15 L211.68,391.94 L211.90,392.61 L212.13,393.28 L212.35,393.96 L212.57,394.65 L212.80,395.35 L213.02,396.05 L213.24,396.75 L213.47,397.47 L213.69,398.19 L213.91,398.91 L214.14,399.64 L214.36,400.38 L214.58,401.12 L214.81,401.87 L215.03,402.62 L215.25,403.37 L215.47,404.13 L215.70,404.90 L215.92,405.66 L216.14,406.44 L216.37,407.21 L216.59,407.99 L216.81,408.77 L217.04,409.56 L217.26,410.35 L217.48,411.14 L217.71,411.93 L217.93,412.73 L218.15,413.52 L218.38,414.32 L218.60,415.12 L218.82,415.93 L219.04,416.73 L219.27,417.53 L219.49,418.34 L219.71,419.15 L219.94,419.95 L220.16,420.76 L220.38,421.56 L220.61,422.37 L220.83,423.18 L221.05,423.98 L221.28,424.78 L221.50,425.59 L221.72,426.39 L221.95,427.19 L222.17,427.99 L222.39,428.78 L222.61,429.58 L222.84,430.37 L223.06,431.16 L223.28,431.95 L223.51,432.73 L223.73,433.51 L223.95,434.29 L224.18,435.06 L224.40,435.83 L224.62,436.59 L224.85,437.35 L225.07,438.10 L225.29,438.85 L225.52,439.60 L225.74,440.34 L225.96,441.07 L226.18,441.79 L226.41,442.51 L226.63,443.22 L226.85,443.93 L227.08,444.63 L227.30,445.32 L227.52,446.00 L227.75,446.67 L227.97,447.34 L228.24,448.12 L228.50,448.90 L228.77,449.66 L229.04,450.41 L229.31,451.14 L229.58,451.86 L229.84,452.56 L230.11,453.25 L230.38,453.92 L230.65,454.58 L230.96,455.33 L231.27,456.05 L231.58,456.76 L231.90,457.44 L232.21,458.10 L232.52,458.73 L232.88,459.43 L233.24,460.10 L233.59,460.73 L233.95,461.34 L234.35,461.97 L234.75,462.57 L235.20,463.18 L235.65,463.74 L236.14,464.29 L236.67,464.80 L237.25,465.27 L237.88,465.64 L238.55,465.91 L239.26,466.02 L239.97,465.94 L240.64,465.71 L241.27,465.34 L241.85,464.87 L242.38,464.33 L242.87,463.73 L243.32,463.11 L243.72,462.49 L244.08,461.89 L244.44,461.24 L244.79,460.54 L245.11,459.89 L245.42,459.21 L245.73,458.49 L246.04,457.73 L246.31,457.05 L246.58,456.35 L246.85,455.62 L247.11,454.87 L247.38,454.09 L247.60,453.42 L247.83,452.74 L248.05,452.03 L248.27,451.31 L248.50,450.57 L248.72,449.82 L248.94,449.04 L249.17,448.25 L249.39,447.45 L249.61,446.62 L249.84,445.78 L250.01,445.10 L250.19,444.40 L250.37,443.70 L250.55,442.98 L250.73,442.25 L250.91,441.52 L251.09,440.77 L251.26,440.02 L251.44,439.25 L251.62,438.47 L251.80,437.69 L251.98,436.89 L252.16,436.09 L252.33,435.27 L252.51,434.45 L252.69,433.62 L252.87,432.78 L253.05,431.93 L253.23,431.07 L253.41,430.20 L253.58,429.32 L253.76,428.44 L253.94,427.55 L254.12,426.65 L254.30,425.74 L254.48,424.82 L254.61,424.13 L254.74,423.44 L254.88,422.74 L255.01,422.03 L255.15,421.32 L255.28,420.61 L255.41,419.90 L255.55,419.18 L255.68,418.45 L255.82,417.73 L255.95,417.00 L256.08,416.26 L256.22,415.53 L256.35,414.79 L256.48,414.04 L256.62,413.30 L256.75,412.55 L256.89,411.80 L257.02,411.04 L257.15,410.28 L257.29,409.52 L257.42,408.76 L257.56,408.00 L257.69,407.23 L257.82,406.46 L257.96,405.69 L258.09,404.92 L258.23,404.14 L258.36,403.36 L258.49,402.58 L258.63,401.80 L258.76,401.02 L258.89,400.24 L259.03,399.46 L259.16,398.67 L259.30,397.88 L259.43,397.10 L259.56,396.31 L259.70,395.52 L259.83,394.73 L259.97,393.94 L260.10,393.15 L260.23,392.36 L260.37,391.57 L260.50,390.78 L260.63,389.99 L260.77,389.20 L260.90,388.41 L261.04,387.62 L261.17,386.83 L261.30,386.05 L261.44,385.26 L261.57,384.47 L261.71,383.69 L261.84,382.90 L261.97,382.12 L262.11,381.34 L262.24,380.56 L262.38,379.78 L262.51,379.00 L262.64,378.22 L262.78,377.45 L262.91,376.67 L263.04,375.90 L263.18,375.13 L263.31,374.37 L263.45,373.60 L263.58,372.84 L263.71,372.08 L263.85,371.32 L263.98,370.56 L264.12,369.81 L264.25,369.06 L264.38,368.31 L264.52,367.57 L264.65,366.82 L264.79,366.09 L264.92,365.35 L265.05,364.62 L265.19,363.88 L265.32,363.16 L265.45,362.43 L265.59,361.71 L265.72,361.00 L265.86,360.28 L265.99,359.57 L266.12,358.87 L266.26,358.16 L266.39,357.46 L266.53,356.77 L266.66,356.08 L266.84,355.16 L267.02,354.26 L267.19,353.36 L267.37,352.47 L267.55,351.58 L267.73,350.71 L267.91,349.84 L268.09,348.99 L268.27,348.14 L268.44,347.30 L268.62,346.47 L268.80,345.65 L268.98,344.84 L269.16,344.04 L269.34,343.25 L269.52,342.48 L269.69,341.71 L269.87,340.96 L270.05,340.21 L270.23,339.48 L270.41,338.76 L270.59,338.06 L270.76,337.36 L270.94,336.68 L271.17,335.85 L271.39,335.04 L271.61,334.25 L271.84,333.48 L272.06,332.74 L272.28,332.02 L272.51,331.32 L272.73,330.65 L273.00,329.88 L273.26,329.14 L273.53,328.44 L273.80,327.78 L274.11,327.06 L274.42,326.40 L274.78,325.70 L275.14,325.09 L275.54,324.49 L275.99,323.93 L276.52,323.44 L277.15,323.10 L277.86,323.04 L278.53,323.30 L279.11,323.78 L279.60,324.37 L280.00,324.98 L280.36,325.61 L280.67,326.24 L280.98,326.94 L281.25,327.60 L281.52,328.30 L281.79,329.05 L282.05,329.85 L282.28,330.55 L282.50,331.29 L282.72,332.06 L282.95,332.87 L283.17,333.70 L283.35,334.40 L283.53,335.11 L283.71,335.84 L283.88,336.60 L284.06,337.37 L284.24,338.17 L284.42,338.99 L284.60,339.82 L284.78,340.68 L284.96,341.56 L285.13,342.45 L285.31,343.37 L285.45,344.07 L285.58,344.78 L285.71,345.50 L285.85,346.24 L285.98,346.98 L286.12,347.73 L286.25,348.50 L286.38,349.27 L286.52,350.06 L286.65,350.86 L286.79,351.67 L286.92,352.48 L287.05,353.31 L287.19,354.15 L287.32,355.00 L287.45,355.86 L287.59,356.73 L287.72,357.61 L287.86,358.49 L287.99,359.39 L288.12,360.30 L288.26,361.22 L288.39,362.15 L288.53,363.09 L288.66,364.03 L288.79,364.99 L288.93,365.96 L289.06,366.93 L289.20,367.92 L289.33,368.91 L289.46,369.91 L289.60,370.92 L289.73,371.94 L289.86,372.97 L290.00,374.01 L290.09,374.71 L290.18,375.41 L290.27,376.11 L290.36,376.82 L290.44,377.53 L290.53,378.25 L290.62,378.96 L290.71,379.69 L290.80,380.41 L290.89,381.14 L290.98,381.87 L291.07,382.61 L291.16,383.35 L291.25,384.09 L291.34,384.84 L291.43,385.58 L291.52,386.34 L291.60,387.09 L291.69,387.85 L291.78,388.61 L291.87,389.38 L291.96,390.15 L292.05,390.92 L292.14,391.69 L292.23,392.47 L292.32,393.25 L292.41,394.03 L292.50,394.82 L292.59,395.60 L292.68,396.40 L292.76,397.19 L292.85,397.99 L292.94,398.78 L293.03,399.59 L293.12,400.39 L293.21,401.20 L293.30,402.00 L293.39,402.82 L293.48,403.63 L293.57,404.45 L293.66,405.26 L293.75,406.08 L293.84,406.90 L293.93,407.73 L294.01,408.56 L294.10,409.38 L294.19,410.21 L294.28,411.04 L294.37,411.88 L294.46,412.71 L294.55,413.55 L294.64,414.39 L294.73,415.23 L294.82,416.07 L294.91,416.91 L295.00,417.76 L295.09,418.60 L295.17,419.45 L295.26,420.29 L295.35,421.14 L295.44,421.99 L295.53,422.84 L295.62,423.69 L295.71,424.55 L295.80,425.40 L295.89,426.25 L295.98,427.11 L296.07,427.96 L296.16,428.82 L296.25,429.67 L296.34,430.53 L296.42,431.38 L296.51,432.24 L296.60,433.09 L296.69,433.95 L296.78,434.81 L296.87,435.66 L296.96,436.52 L297.05,437.37 L297.14,438.22 L297.23,439.08 L297.32,439.93 L297.41,440.78 L297.50,441.64 L297.58,442.49 L297.67,443.34 L297.76,444.18 L297.85,445.03 L297.94,445.88 L298.03,446.72 L298.12,447.57 L298.21,448.41 L298.30,449.25 L298.39,450.09 L298.48,450.93 L298.57,451.76 L298.66,452.59 L298.74,453.43 L298.83,454.26 L298.92,455.08 L299.01,455.91 L299.10,456.73 L299.19,457.55 L299.28,458.37 L299.37,459.19 L299.46,460.00 L299.55,460.81 L299.64,461.62 L299.73,462.42 L299.82,463.23 L299.90,464.03 L299.99,464.82 L300.08,465.62 L300.17,466.41 L300.26,467.19 L300.35,467.98 L300.44,468.76 L300.53,469.54 L300.62,470.31 L300.71,471.08 L300.80,471.85 L300.89,472.61 L300.98,473.37 L301.07,474.13 L301.15,474.88 L301.24,475.63 L301.33,476.38 L301.42,477.12 L301.51,477.85 L301.60,478.59 L301.69,479.32 L301.78,480.04 L301.87,480.76 L301.96,481.48 L302.05,482.19 L302.14,482.90 L302.23,483.60 L302.31,484.30 L302.40,484.99 L302.54,486.03 L302.67,487.05 L302.81,488.06 L302.94,489.06 L303.07,490.05 L303.21,491.04 L303.34,492.00 L303.48,492.96 L303.61,493.91 L303.74,494.84 L303.88,495.77 L304.01,496.68 L304.14,497.58 L304.28,498.47 L304.41,499.34 L304.55,500.21 L304.68,501.06 L304.81,501.90 L304.95,502.72 L305.08,503.54 L305.22,504.34 L305.35,505.12 L305.48,505.90 L305.62,506.66 L305.75,507.41 L305.88,508.14 L306.02,508.86 L306.15,509.56 L306.29,510.25 L306.46,511.15 L306.64,512.02 L306.82,512.87 L307.00,513.69 L307.18,514.48 L307.36,515.25 L307.54,515.99 L307.71,516.70 L307.89,517.38 L308.12,518.19 L308.34,518.95 L308.56,519.67 L308.79,520.35 L309.05,521.09 L309.32,521.76 L309.63,522.46 L309.99,523.13 L310.39,523.73 L310.88,524.24 L311.55,524.51 L312.22,524.30 L312.76,523.78 L313.16,523.18 L313.52,522.50 L313.83,521.78 L314.10,521.09 L314.36,520.31 L314.59,519.60 L314.81,518.84 L315.03,518.02 L315.21,517.33 L315.39,516.60 L315.57,515.84 L315.75,515.04 L315.93,514.21 L316.10,513.35 L316.28,512.46 L316.42,511.77 L316.55,511.06 L316.68,510.33 L316.82,509.59 L316.95,508.82 L317.09,508.04 L317.22,507.25 L317.35,506.44 L317.49,505.61 L317.62,504.76 L317.75,503.90 L317.89,503.03 L318.02,502.14 L318.16,501.23 L318.29,500.32 L318.42,499.38 L318.56,498.43 L318.69,497.47 L318.83,496.50 L318.96,495.52 L319.09,494.52 L319.23,493.51 L319.36,492.49 L319.50,491.46 L319.63,490.41 L319.72,489.71 L319.81,489.01 L319.90,488.30 L319.99,487.59 L320.08,486.87 L320.16,486.15 L320.25,485.42 L320.34,484.70 L320.43,483.96 L320.52,483.23 L320.61,482.49 L320.70,481.75 L320.79,481.01 L320.88,480.26 L320.97,479.51 L321.06,478.76 L321.15,478.01 L321.24,477.25 L321.32,476.49 L321.41,475.73 L321.50,474.97 L321.59,474.21 L321.68,473.44 L321.77,472.68 L321.86,471.91 L321.95,471.14 L322.04,470.37 L322.13,469.60 L322.22,468.83 L322.31,468.06 L322.40,467.29 L322.49,466.52 L322.57,465.74 L322.66,464.97 L322.75,464.20 L322.84,463.43 L322.93,462.66 L323.02,461.89 L323.11,461.12 L323.20,460.35 L323.29,459.59 L323.38,458.82 L323.47,458.06 L323.56,457.30 L323.65,456.54 L323.73,455.78 L323.82,455.02 L323.91,454.27 L324.00,453.52 L324.09,452.77 L324.18,452.02 L324.27,451.28 L324.36,450.54 L324.45,449.80 L324.54,449.07 L324.63,448.34 L324.72,447.62 L324.81,446.89 L324.90,446.18 L324.98,445.46 L325.07,444.75 L325.16,444.05 L325.25,443.35 L325.34,442.65 L325.48,441.62 L325.61,440.60 L325.74,439.59 L325.88,438.60 L326.01,437.62 L326.14,436.65 L326.28,435.70 L326.41,434.77 L326.55,433.86 L326.68,432.96 L326.81,432.08 L326.95,431.22 L327.08,430.39 L327.22,429.57 L327.35,428.78 L327.48,428.01 L327.62,427.27 L327.75,426.55 L327.88,425.86 L328.06,424.98 L328.24,424.16 L328.42,423.39 L328.60,422.67 L328.82,421.86 L329.05,421.16 L329.31,420.44 L329.67,419.75 L330.21,419.30 L330.25,419.30" stroke="#0000ff" stroke-width="2.1" fill="none" stroke-linejoin="round" stroke-linecap="butt"/></g>
<g clip-path="url(#cJ)"><path d="M414.60,424.00 L414.71,424.87 L414.83,425.73 L414.94,426.56 L415.05,427.38 L415.17,428.18 L415.28,428.96 L415.39,429.73 L415.50,430.47 L415.62,431.20 L415.73,431.92 L415.84,432.61 L416.00,433.52 L416.15,434.39 L416.30,435.24 L416.45,436.06 L416.60,436.86 L416.75,437.62 L416.90,438.37 L417.05,439.09 L417.20,439.78 L417.39,440.61 L417.58,441.41 L417.77,442.18 L417.96,442.91 L418.14,443.61 L418.37,444.40 L418.60,445.16 L418.82,445.87 L419.05,446.54 L419.31,447.28 L419.58,447.97 L419.88,448.70 L420.18,449.37 L420.52,450.05 L420.90,450.72 L421.31,451.35 L421.76,451.91 L422.29,452.42 L422.89,452.79 L423.57,452.97 L424.29,452.89 L424.93,452.59 L425.50,452.16 L426.02,451.63 L426.48,451.08 L426.89,450.49 L427.31,449.84 L427.68,449.20 L428.02,448.57 L428.36,447.90 L428.70,447.20 L429.00,446.54 L429.30,445.85 L429.61,445.14 L429.91,444.41 L430.17,443.75 L430.44,443.07 L430.70,442.38 L430.96,441.67 L431.23,440.95 L431.49,440.23 L431.76,439.49 L432.02,438.74 L432.28,437.98 L432.55,437.22 L432.81,436.45 L433.04,435.79 L433.26,435.12 L433.49,434.45 L433.72,433.78 L433.94,433.11 L434.17,432.44 L434.39,431.76 L434.62,431.09 L434.85,430.41 L435.07,429.74 L435.30,429.06 L435.53,428.39 L435.75,427.71 L435.98,427.04 L436.20,426.37 L436.43,425.70 L436.66,425.03 L436.88,424.37 L437.15,423.60 L437.41,422.83 L437.67,422.07 L437.94,421.31 L438.20,420.56 L438.47,419.82 L438.73,419.08 L438.99,418.35 L439.26,417.62 L439.52,416.90 L439.79,416.18 L440.05,415.48 L440.31,414.77 L440.58,414.08 L440.84,413.39 L441.11,412.70 L441.37,412.03 L441.63,411.35 L441.90,410.69 L442.16,410.03 L442.43,409.38 L442.73,408.65 L443.03,407.92 L443.33,407.21 L443.63,406.51 L443.93,405.82 L444.24,405.15 L444.54,404.49 L444.84,403.85 L445.18,403.14 L445.52,402.47 L445.86,401.81 L446.20,401.18 L446.57,400.52 L446.95,399.88 L447.33,399.29 L447.74,398.68 L448.19,398.07 L448.65,397.51 L449.14,396.97 L449.66,396.46 L450.23,395.99 L450.83,395.59 L451.47,395.28 L452.15,395.07 L452.87,394.98 L453.59,395.02 L454.30,395.18 L454.98,395.44 L455.62,395.77 L456.23,396.15 L456.79,396.57 L457.36,397.05 L457.88,397.55 L458.37,398.06 L458.86,398.62 L459.32,399.18 L459.77,399.78 L460.18,400.36 L460.60,400.98 L460.98,401.57 L461.35,402.19 L461.73,402.83 L462.11,403.50 L462.45,404.12 L462.79,404.76 L463.13,405.41 L463.46,406.08 L463.80,406.76 L464.14,407.46 L464.48,408.16 L464.78,408.79 L465.09,409.43 L465.39,410.08 L465.69,410.73 L465.99,411.38 L466.29,412.04 L466.59,412.69 L466.90,413.35 L467.20,414.01 L467.50,414.67 L467.80,415.33 L468.10,415.98 L468.40,416.63 L468.71,417.28 L469.01,417.92 L469.31,418.55 L469.65,419.25 L469.99,419.95 L470.33,420.63 L470.67,421.30 L471.01,421.96 L471.34,422.60 L471.68,423.23 L472.02,423.85 L472.40,424.51 L472.78,425.16 L473.15,425.78 L473.53,426.38 L473.95,427.01 L474.36,427.62 L474.78,428.19 L475.23,428.78 L475.68,429.33 L476.17,429.89 L476.66,430.40 L477.19,430.91 L477.75,431.40 L478.32,431.83 L478.92,432.24 L479.56,432.60 L480.21,432.90 L480.88,433.14 L481.56,433.32 L482.28,433.43 L483.00,433.47 L483.71,433.45 L484.43,433.37 L485.14,433.22 L485.82,433.02 L486.50,432.74 L487.14,432.41 L487.75,432.02 L488.31,431.61 L488.88,431.12 L489.40,430.62 L489.90,430.11 L490.39,429.57 L490.88,428.99 L491.33,428.43 L491.78,427.86 L492.23,427.27 L492.69,426.67 L493.14,426.05 L493.55,425.49 L493.97,424.92 L494.38,424.35 L494.80,423.78 L495.21,423.21 L495.63,422.65 L496.08,422.04 L496.53,421.44 L496.98,420.85 L497.44,420.27 L497.89,419.71 L498.34,419.16 L498.83,418.60 L499.32,418.05 L499.81,417.54 L500.34,417.02 L500.87,416.54 L501.43,416.07 L502.04,415.64 L502.64,415.27 L503.28,414.94 L503.96,414.68 L504.64,414.49 L505.35,414.37 L506.07,414.32 L506.79,414.34 L507.50,414.42 L508.22,414.56 L508.90,414.76 L509.58,415.02 L510.22,415.33 L510.86,415.70 L511.46,416.11 L512.03,416.54 L512.59,417.03 L513.12,417.53 L513.65,418.07 L514.14,418.59 L514.63,419.15 L515.08,419.68 L515.53,420.24 L515.99,420.81 L516.44,421.39 L516.89,421.99 L517.34,422.60 L517.80,423.21 L518.21,423.78 L518.63,424.34 L519.08,424.96 L519.53,425.57 L519.98,426.17 L520.44,426.76 L520.89,427.33 L521.34,427.89 L521.79,428.43 L522.28,428.99 L522.77,429.54 L523.26,430.06 L523.75,430.56 L524.28,431.08 L524.81,431.56 L525.34,432.02 L525.90,432.49 L526.47,432.92 L527.07,433.33 L527.67,433.71 L528.32,434.05 L528.96,434.34 L529.64,434.57 L530.35,434.74 L531.07,434.82 L531.78,434.83 L532.50,434.75 L533.22,434.60 L533.90,434.40 L534.57,434.12 L535.22,433.81 L535.86,433.45 L536.46,433.06 L537.06,432.62 L537.63,432.17 L538.19,431.68 L538.72,431.19 L539.25,430.66 L539.74,430.15 L540.23,429.61 L540.72,429.04 L541.17,428.50 L541.63,427.95 L542.08,427.38 L542.53,426.80 L542.98,426.22 L543.43,425.63 L543.89,425.03 L544.34,424.43 L544.79,423.83 L545.24,423.22 L545.70,422.61 L546.15,422.00 L546.56,421.43 L546.98,420.85 L547.39,420.27 L547.81,419.69 L548.22,419.09 L548.64,418.49 L549.05,417.89 L549.47,417.27 L549.88,416.66 L550.30,416.05 L550.71,415.44 L551.13,414.84 L551.54,414.25 L551.96,413.68 L552.41,413.07 L552.86,412.48 L553.31,411.92 L553.80,411.34 L554.29,410.80 L554.78,410.29 L555.31,409.78 L555.84,409.31 L556.41,408.85 L557.01,408.42 L557.61,408.03 L558.25,407.69 L558.89,407.40 L559.57,407.16 L560.29,406.99 L561.01,406.88 L561.72,406.86 L562.44,406.90 L563.15,407.02 L563.83,407.20 L564.51,407.45 L565.15,407.76 L565.79,408.13 L566.40,408.55 L566.96,409.00 L567.49,409.47 L568.02,409.98 L568.51,410.50 L569.00,411.05 L569.45,411.59 L569.90,412.15 L570.36,412.73 L570.81,413.34 L571.22,413.91 L571.64,414.49 L572.05,415.08 L572.47,415.69 L572.88,416.32 L573.30,416.96 L573.67,417.56 L574.05,418.17 L574.43,418.81 L574.80,419.46 L575.18,420.14 L575.52,420.77 L575.86,421.42 L576.20,422.08 L576.54,422.77 L576.88,423.48 L577.18,424.12 L577.48,424.77 L577.78,425.43 L578.08,426.10 L578.39,426.77 L578.69,427.44 L578.99,428.12 L579.29,428.79 L579.59,429.46 L579.89,430.12 L580.20,430.78 L580.50,431.43 L580.80,432.06 L581.14,432.76 L581.48,433.45 L581.82,434.12 L582.16,434.78 L582.50,435.44 L582.84,436.08 L583.18,436.72 L583.51,437.36 L583.85,437.99 L584.19,438.62 L584.53,439.26 L584.87,439.90 L585.21,440.54 L585.55,441.19 L585.89,441.85 L586.23,442.51 L586.57,443.19 L586.91,443.86 L587.25,444.54 L587.59,445.22 L587.93,445.91 L588.27,446.59 L588.60,447.28 L588.94,447.96 L589.28,448.64 L589.62,449.32 L589.96,449.99 L590.30,450.66 L590.64,451.32 L590.98,451.98 L591.32,452.62 L591.66,453.25 L592.00,453.88 L592.37,454.56 L592.75,455.22 L593.13,455.87 L593.51,456.49 L593.88,457.10 L594.30,457.74 L594.71,458.36 L595.13,458.94 L595.58,459.54 L596.03,460.10 L596.52,460.65 L597.05,461.18 L597.62,461.67 L598.22,462.09 L598.86,462.41 L599.54,462.61 L600.25,462.65 L600.97,462.52 L601.65,462.25 L602.25,461.89 L602.82,461.47 L603.35,460.98 L603.84,460.47 L604.33,459.89 L604.78,459.31 L605.19,458.72 L605.61,458.10 L605.99,457.51 L606.36,456.88 L606.74,456.22 L607.08,455.60 L607.42,454.96 L607.76,454.30 L608.10,453.62 L608.44,452.92 L608.74,452.28 L609.04,451.63 L609.34,450.96 L609.64,450.27 L609.94,449.57 L610.25,448.84 L610.55,448.10 L610.81,447.44 L611.08,446.76 L611.34,446.06 L611.60,445.35 L611.87,444.63 L612.13,443.88 L612.40,443.12 L612.62,442.45 L612.85,441.77 L613.07,441.08 L613.30,440.37 L613.53,439.65 L613.75,438.91 L613.98,438.16 L614.21,437.40 L614.43,436.63 L614.66,435.85 L614.88,435.05 L615.11,434.25 L615.30,433.56 L615.49,432.88 L615.68,432.18 L615.86,431.48 L616.05,430.78 L616.24,430.06 L616.43,429.34 L616.62,428.62 L616.81,427.89 L617.00,427.16 L617.18,426.42 L617.37,425.67 L617.56,424.92 L617.75,424.17 L617.94,423.41 L618.13,422.65 L618.32,421.89 L618.50,421.12 L618.69,420.35 L618.88,419.58 L619.07,418.81 L619.26,418.04 L619.45,417.27 L619.63,416.51 L619.82,415.74 L620.01,414.97 L620.20,414.21 L620.39,413.45 L620.58,412.70 L620.77,411.95 L620.95,411.20 L621.14,410.46 L621.33,409.73 L621.52,409.00 L621.71,408.28 L621.90,407.57 L622.09,406.87 L622.27,406.17 L622.46,405.48 L622.65,404.81 L622.88,404.01 L623.10,403.22 L623.33,402.45 L623.56,401.70 L623.78,400.95 L624.01,400.23 L624.23,399.51 L624.46,398.81 L624.69,398.13 L624.91,397.45 L625.18,396.69 L625.44,395.94 L625.71,395.22 L625.97,394.51 L626.23,393.83 L626.50,393.16 L626.80,392.42 L627.10,391.71 L627.40,391.03 L627.70,390.37 L628.04,389.68 L628.38,389.03 L628.76,388.37 L629.17,387.73 L629.63,387.13 L630.12,386.62 L630.72,386.20 L631.40,386.03 L632.08,386.23 L632.64,386.67 L633.10,387.21 L633.51,387.86 L633.85,388.49 L634.15,389.13 L634.45,389.84 L634.72,390.53 L634.98,391.27 L635.21,391.96 L635.43,392.69 L635.66,393.46 L635.89,394.27 L636.07,394.98 L636.26,395.72 L636.45,396.49 L636.64,397.28 L636.83,398.11 L637.02,398.97 L637.17,399.68 L637.32,400.40 L637.47,401.14 L637.62,401.90 L637.77,402.68 L637.92,403.48 L638.07,404.29 L638.22,405.12 L638.37,405.97 L638.52,406.84 L638.68,407.72 L638.83,408.62 L638.98,409.54 L639.09,410.24 L639.20,410.95 L639.32,411.66 L639.43,412.39 L639.54,413.13 L639.66,413.87 L639.77,414.63 L639.88,415.39 L640.00,416.16 L640.11,416.94 L640.22,417.73 L640.33,418.53 L640.45,419.34 L640.56,420.15 L640.67,420.98 L640.79,421.81 L640.82,422.09" stroke="#ff0000" stroke-width="2.1" fill="none" stroke-linejoin="round" stroke-linecap="butt"/></g>
<g clip-path="url(#cJ)"><path d="M414.60,424.00 L414.64,424.86 L414.69,425.71 L414.73,426.55 L414.78,427.38 L414.82,428.21 L414.87,429.03 L414.91,429.84 L414.96,430.64 L415.00,431.44 L415.05,432.22 L415.09,433.00 L415.14,433.77 L415.18,434.54 L415.23,435.29 L415.27,436.04 L415.32,436.78 L415.36,437.51 L415.41,438.24 L415.45,438.96 L415.50,439.67 L415.54,440.37 L415.63,441.75 L415.72,443.11 L415.81,444.44 L415.90,445.73 L415.99,447.00 L416.08,448.25 L416.17,449.46 L416.26,450.65 L416.35,451.81 L416.44,452.94 L416.53,454.05 L416.62,455.13 L416.71,456.19 L416.80,457.22 L416.89,458.22 L416.98,459.20 L417.07,460.16 L417.16,461.09 L417.25,462.00 L417.33,462.88 L417.42,463.74 L417.51,464.58 L417.60,465.39 L417.69,466.19 L417.78,466.96 L417.87,467.71 L417.96,468.43 L418.05,469.14 L418.19,470.16 L418.32,471.13 L418.46,472.06 L418.59,472.95 L418.72,473.79 L418.86,474.59 L418.99,475.35 L419.13,476.07 L419.31,476.97 L419.49,477.80 L419.67,478.57 L419.85,479.28 L420.07,480.09 L420.29,480.80 L420.56,481.54 L420.88,482.26 L421.24,482.88 L421.73,483.40 L422.40,483.53 L422.98,483.11 L423.43,482.47 L423.79,481.77 L424.11,481.03 L424.37,480.30 L424.60,479.63 L424.82,478.89 L425.05,478.11 L425.27,477.27 L425.45,476.56 L425.63,475.81 L425.81,475.04 L425.99,474.23 L426.17,473.39 L426.35,472.52 L426.53,471.63 L426.66,470.94 L426.80,470.23 L426.93,469.51 L427.06,468.78 L427.20,468.03 L427.33,467.27 L427.47,466.49 L427.60,465.70 L427.74,464.90 L427.87,464.09 L428.01,463.27 L428.14,462.44 L428.27,461.59 L428.41,460.74 L428.54,459.87 L428.68,459.00 L428.81,458.11 L428.95,457.22 L429.08,456.32 L429.22,455.41 L429.35,454.50 L429.49,453.57 L429.62,452.64 L429.75,451.71 L429.89,450.76 L430.02,449.82 L430.16,448.86 L430.29,447.91 L430.43,446.94 L430.56,445.98 L430.70,445.01 L430.83,444.04 L430.96,443.06 L431.10,442.09 L431.23,441.11 L431.37,440.13 L431.50,439.14 L431.64,438.16 L431.77,437.17 L431.91,436.19 L432.04,435.20 L432.18,434.21 L432.31,433.23 L432.44,432.24 L432.58,431.25 L432.71,430.26 L432.85,429.27 L432.98,428.29 L433.12,427.30 L433.25,426.31 L433.39,425.33 L433.52,424.34 L433.65,423.36 L433.79,422.38 L433.92,421.40 L434.06,420.43 L434.19,419.45 L434.33,418.48 L434.46,417.51 L434.60,416.55 L434.73,415.58 L434.87,414.62 L435.00,413.67 L435.13,412.71 L435.27,411.76 L435.40,410.82 L435.54,409.88 L435.67,408.94 L435.81,408.01 L435.94,407.08 L436.08,406.15 L436.21,405.24 L436.34,404.32 L436.48,403.42 L436.61,402.51 L436.75,401.62 L436.88,400.73 L437.02,399.84 L437.15,398.97 L437.29,398.10 L437.42,397.23 L437.56,396.37 L437.69,395.52 L437.82,394.67 L437.96,393.83 L438.09,393.00 L438.23,392.18 L438.36,391.36 L438.50,390.55 L438.63,389.74 L438.77,388.95 L438.90,388.16 L439.04,387.38 L439.17,386.60 L439.30,385.84 L439.44,385.08 L439.57,384.33 L439.71,383.59 L439.84,382.85 L439.98,382.13 L440.11,381.41 L440.25,380.70 L440.38,380.00 L440.51,379.31 L440.69,378.40 L440.87,377.51 L441.05,376.63 L441.23,375.77 L441.41,374.93 L441.59,374.10 L441.77,373.30 L441.95,372.50 L442.13,371.73 L442.31,370.98 L442.49,370.24 L442.67,369.52 L442.85,368.82 L443.03,368.13 L443.25,367.31 L443.47,366.51 L443.70,365.74 L443.92,365.00 L444.15,364.29 L444.37,363.61 L444.64,362.84 L444.91,362.10 L445.18,361.42 L445.49,360.68 L445.81,360.00 L446.16,359.29 L446.52,358.68 L446.93,358.08 L447.42,357.50 L448.00,357.03 L448.67,356.77 L449.39,356.81 L450.02,357.11 L450.56,357.57 L451.05,358.14 L451.45,358.72 L451.86,359.39 L452.22,360.07 L452.53,360.72 L452.84,361.42 L453.11,362.07 L453.38,362.76 L453.65,363.48 L453.92,364.25 L454.19,365.04 L454.41,365.73 L454.64,366.45 L454.86,367.18 L455.09,367.94 L455.31,368.71 L455.53,369.51 L455.76,370.33 L455.98,371.16 L456.16,371.84 L456.34,372.53 L456.52,373.23 L456.70,373.94 L456.88,374.65 L457.06,375.38 L457.24,376.12 L457.42,376.86 L457.60,377.62 L457.78,378.38 L457.96,379.14 L458.13,379.92 L458.31,380.70 L458.49,381.48 L458.67,382.27 L458.85,383.07 L459.03,383.87 L459.21,384.68 L459.39,385.49 L459.57,386.30 L459.75,387.12 L459.93,387.95 L460.11,388.77 L460.29,389.60 L460.47,390.43 L460.65,391.27 L460.82,392.11 L461.00,392.95 L461.18,393.79 L461.36,394.64 L461.54,395.48 L461.72,396.33 L461.90,397.18 L462.08,398.03 L462.26,398.88 L462.44,399.73 L462.62,400.58 L462.80,401.43 L462.98,402.28 L463.16,403.13 L463.34,403.98 L463.51,404.83 L463.69,405.68 L463.87,406.52 L464.05,407.37 L464.23,408.21 L464.41,409.05 L464.59,409.89 L464.77,410.73 L464.95,411.56 L465.13,412.39 L465.31,413.22 L465.49,414.05 L465.67,414.87 L465.85,415.70 L466.03,416.52 L466.21,417.33 L466.38,418.15 L466.56,418.96 L466.74,419.77 L466.92,420.58 L467.10,421.38 L467.28,422.18 L467.46,422.97 L467.64,423.77 L467.82,424.56 L468.00,425.35 L468.18,426.13 L468.36,426.91 L468.54,427.69 L468.72,428.46 L468.90,429.23 L469.07,429.99 L469.25,430.75 L469.43,431.51 L469.61,432.27 L469.79,433.01 L469.97,433.76 L470.15,434.50 L470.33,435.24 L470.51,435.97 L470.69,436.69 L470.87,437.41 L471.05,438.12 L471.23,438.83 L471.41,439.53 L471.59,440.23 L471.76,440.92 L471.94,441.60 L472.17,442.44 L472.39,443.27 L472.62,444.09 L472.84,444.90 L473.06,445.70 L473.29,446.48 L473.51,447.24 L473.74,448.00 L473.96,448.74 L474.19,449.46 L474.41,450.17 L474.63,450.86 L474.86,451.54 L475.13,452.33 L475.40,453.10 L475.67,453.84 L475.93,454.56 L476.20,455.25 L476.47,455.92 L476.74,456.57 L477.06,457.29 L477.37,457.99 L477.68,458.65 L478.00,459.28 L478.36,459.97 L478.71,460.61 L479.07,461.22 L479.48,461.85 L479.88,462.44 L480.33,463.03 L480.82,463.62 L481.31,464.13 L481.85,464.61 L482.44,465.03 L483.06,465.38 L483.74,465.62 L484.45,465.74 L485.17,465.70 L485.89,465.52 L486.56,465.22 L487.19,464.82 L487.77,464.36 L488.31,463.86 L488.80,463.33 L489.30,462.74 L489.74,462.16 L490.19,461.53 L490.60,460.93 L491.00,460.29 L491.40,459.61 L491.76,458.98 L492.12,458.33 L492.48,457.66 L492.84,456.96 L493.15,456.33 L493.46,455.69 L493.78,455.03 L494.09,454.36 L494.41,453.68 L494.72,452.98 L495.03,452.28 L495.35,451.57 L495.66,450.85 L495.98,450.12 L496.29,449.39 L496.60,448.65 L496.92,447.90 L497.23,447.16 L497.54,446.41 L497.86,445.65 L498.13,445.01 L498.40,444.36 L498.67,443.71 L498.93,443.05 L499.20,442.40 L499.47,441.75 L499.74,441.09 L500.01,440.43 L500.28,439.78 L500.55,439.12 L500.82,438.46 L501.09,437.80 L501.36,437.14 L501.62,436.48 L501.89,435.82 L502.16,435.16 L502.43,434.51 L502.70,433.85 L502.97,433.19 L503.24,432.53 L503.51,431.88 L503.78,431.22 L504.05,430.57 L504.31,429.91 L504.58,429.26 L504.85,428.60 L505.12,427.95 L505.39,427.30 L505.66,426.65 L505.93,426.00 L506.20,425.34 L506.47,424.69 L506.74,424.04 L507.00,423.39 L507.27,422.74 L507.54,422.09 L507.81,421.45 L508.08,420.80 L508.35,420.15 L508.66,419.40 L508.98,418.65 L509.29,417.90 L509.61,417.16 L509.92,416.42 L510.23,415.69 L510.55,414.97 L510.86,414.25 L511.17,413.55 L511.49,412.85 L511.80,412.17 L512.12,411.50 L512.43,410.84 L512.74,410.20 L513.06,409.57 L513.42,408.87 L513.78,408.20 L514.13,407.54 L514.49,406.91 L514.85,406.30 L515.25,405.64 L515.66,405.01 L516.06,404.40 L516.47,403.82 L516.91,403.21 L517.36,402.63 L517.81,402.08 L518.30,401.51 L518.80,400.98 L519.33,400.44 L519.87,399.94 L520.41,399.49 L520.99,399.05 L521.58,398.65 L522.20,398.27 L522.83,397.94 L523.50,397.64 L524.18,397.39 L524.85,397.20 L525.57,397.05 L526.28,396.97 L527.00,396.96 L527.72,397.04 L528.44,397.19 L529.11,397.42 L529.78,397.74 L530.41,398.12 L530.99,398.53 L531.57,399.00 L532.11,399.47 L532.65,399.97 L533.19,400.50 L533.68,401.01 L534.17,401.52 L534.67,402.05 L535.16,402.57 L535.65,403.09 L536.15,403.61 L536.64,404.13 L537.13,404.66 L537.63,405.20 L538.12,405.75 L538.61,406.33 L539.06,406.87 L539.51,407.43 L539.96,408.02 L540.41,408.64 L540.81,409.23 L541.21,409.84 L541.62,410.49 L542.02,411.15 L542.38,411.76 L542.74,412.39 L543.10,413.03 L543.46,413.68 L543.81,414.34 L544.17,415.01 L544.53,415.68 L544.89,416.36 L545.25,417.04 L545.61,417.72 L545.97,418.40 L546.33,419.08 L546.68,419.75 L547.04,420.42 L547.40,421.08 L547.76,421.73 L548.12,422.38 L548.48,423.03 L548.84,423.67 L549.19,424.30 L549.55,424.93 L549.91,425.55 L550.27,426.17 L550.63,426.79 L550.99,427.40 L551.35,428.00 L551.75,428.68 L552.15,429.35 L552.56,430.01 L552.96,430.67 L553.36,431.32 L553.77,431.97 L554.17,432.61 L554.57,433.25 L554.98,433.89 L555.38,434.52 L555.79,435.14 L556.19,435.77 L556.59,436.38 L557.00,437.00 L557.40,437.61 L557.80,438.22 L558.21,438.83 L558.61,439.43 L559.01,440.03 L559.42,440.62 L559.82,441.20 L560.22,441.78 L560.67,442.41 L561.12,443.03 L561.57,443.64 L562.02,444.24 L562.47,444.82 L562.91,445.39 L563.36,445.94 L563.86,446.52 L564.35,447.09 L564.84,447.63 L565.34,448.15 L565.87,448.68 L566.41,449.18 L566.95,449.65 L567.53,450.12 L568.12,450.54 L568.74,450.94 L569.37,451.29 L570.04,451.60 L570.72,451.85 L571.43,452.04 L572.15,452.16 L572.87,452.21 L573.58,452.18 L574.30,452.08 L575.02,451.90 L575.69,451.66 L576.36,451.34 L576.99,450.98 L577.58,450.58 L578.16,450.11 L578.70,449.63 L579.23,449.08 L579.73,448.54 L580.18,448.00 L580.62,447.42 L581.07,446.81 L581.48,446.24 L581.88,445.64 L582.28,445.02 L582.69,444.37 L583.09,443.71 L583.45,443.11 L583.81,442.49 L584.17,441.86 L584.52,441.22 L584.88,440.58 L585.24,439.92 L585.60,439.25 L585.96,438.57 L586.32,437.88 L586.68,437.18 L587.04,436.47 L587.35,435.83 L587.66,435.18 L587.98,434.52 L588.29,433.84 L588.60,433.16 L588.92,432.46 L589.23,431.74 L589.55,431.01 L589.86,430.26 L590.13,429.61 L590.40,428.94 L590.67,428.27 L590.94,427.58 L591.21,426.88 L591.47,426.17 L591.74,425.45 L592.01,424.72 L592.28,423.98 L592.55,423.23 L592.82,422.48 L593.09,421.72 L593.36,420.96 L593.63,420.19 L593.90,419.42 L594.16,418.64 L594.43,417.86 L594.70,417.08 L594.97,416.29 L595.24,415.51 L595.51,414.73 L595.78,413.94 L596.05,413.16 L596.32,412.38 L596.59,411.60 L596.85,410.82 L597.12,410.04 L597.39,409.27 L597.66,408.49 L597.93,407.72 L598.20,406.95 L598.47,406.19 L598.74,405.43 L599.01,404.67 L599.28,403.91 L599.54,403.15 L599.81,402.40 L600.08,401.66 L600.35,400.91 L600.62,400.17 L600.89,399.44 L601.16,398.71 L601.43,397.98 L601.70,397.25 L601.97,396.54 L602.23,395.82 L602.50,395.12 L602.77,394.42 L603.04,393.73 L603.31,393.04 L603.58,392.37 L603.85,391.70 L604.12,391.04 L604.39,390.39 L604.70,389.65 L605.01,388.92 L605.33,388.20 L605.64,387.50 L605.96,386.82 L606.27,386.16 L606.58,385.52 L606.94,384.80 L607.30,384.12 L607.66,383.46 L608.02,382.83 L608.42,382.16 L608.83,381.53 L609.23,380.95 L609.68,380.35 L610.17,379.77 L610.66,379.25 L611.20,378.78 L611.78,378.39 L612.46,378.08 L613.17,377.93 L613.89,377.97 L614.61,378.17 L615.24,378.49 L615.82,378.88 L616.36,379.33 L616.90,379.86 L617.39,380.41 L617.84,380.97 L618.29,381.57 L618.69,382.15 L619.09,382.78 L619.50,383.45 L619.85,384.09 L620.21,384.76 L620.57,385.47 L620.89,386.13 L621.20,386.81 L621.51,387.53 L621.83,388.28 L622.10,388.95 L622.37,389.65 L622.63,390.37 L622.90,391.12 L623.17,391.89 L623.40,392.56 L623.62,393.25 L623.84,393.95 L624.07,394.67 L624.29,395.41 L624.52,396.17 L624.74,396.95 L624.97,397.75 L625.19,398.56 L625.41,399.39 L625.59,400.07 L625.77,400.76 L625.95,401.46 L626.13,402.17 L626.31,402.89 L626.49,403.63 L626.67,404.37 L626.85,405.13 L627.03,405.89 L627.21,406.67 L627.39,407.46 L627.57,408.26 L627.75,409.07 L627.92,409.88 L628.10,410.71 L628.28,411.55 L628.46,412.40 L628.64,413.27 L628.82,414.14 L629.00,415.02 L629.18,415.91 L629.36,416.81 L629.54,417.71 L629.72,418.63 L629.85,419.32 L629.99,420.02 L630.12,420.72 L630.26,421.42 L630.39,422.12 L630.53,422.83 L630.66,423.55 L630.79,424.26 L630.93,424.98 L631.06,425.70 L631.20,426.43 L631.33,427.15 L631.47,427.88 L631.60,428.61 L631.74,429.34 L631.87,430.07 L632.00,430.81 L632.14,431.54 L632.27,432.28 L632.41,433.01 L632.54,433.75 L632.68,434.48 L632.81,435.22 L632.95,435.96 L633.08,436.69 L633.22,437.43 L633.35,438.16 L633.48,438.90 L633.62,439.63 L633.75,440.36 L633.89,441.09 L634.02,441.82 L634.16,442.54 L634.29,443.27 L634.43,443.99 L634.56,444.71 L634.70,445.42 L634.83,446.14 L634.96,446.85 L635.10,447.56 L635.23,448.27 L635.37,448.98 L635.50,449.68 L635.64,450.38 L635.77,451.08 L635.91,451.77 L636.04,452.47 L636.17,453.16 L636.31,453.85 L636.49,454.76 L636.67,455.67 L636.85,456.57 L637.03,457.47 L637.21,458.37 L637.39,459.26 L637.56,460.14 L637.74,461.02 L637.92,461.90 L638.10,462.77 L638.28,463.63 L638.46,464.49 L638.64,465.35 L638.82,466.20 L639.00,467.04 L639.18,467.88 L639.36,468.71 L639.54,469.54 L639.72,470.36 L639.90,471.17 L640.08,471.98 L640.25,472.79 L640.43,473.58 L640.61,474.37 L640.79,475.16 L640.97,475.93 L641.15,476.70 L641.33,477.46 L641.51,478.21 L641.69,478.96 L641.87,479.69 L642.05,480.42 L642.23,481.14 L642.41,481.84 L642.59,482.54 L642.77,483.23 L642.94,483.91 L643.17,484.74 L643.39,485.56 L643.62,486.36 L643.84,487.14 L644.07,487.90 L644.29,488.65 L644.51,489.37 L644.74,490.08 L644.96,490.77 L645.19,491.43 L645.46,492.20 L645.72,492.94 L645.99,493.64 L646.26,494.31 L646.58,495.04 L646.89,495.71 L647.25,496.41 L647.61,497.04 L648.01,497.63 L648.50,498.21 L649.09,498.66 L649.76,498.84 L650.43,498.64 L650.97,498.17 L651.42,497.58 L651.82,496.90 L652.18,496.18 L652.49,495.46 L652.76,494.79 L653.03,494.06 L653.30,493.27 L653.53,492.58 L653.75,491.86 L653.97,491.10 L654.20,490.31 L654.42,489.48 L654.60,488.80 L654.78,488.10 L654.96,487.38 L655.14,486.65 L655.32,485.90 L655.50,485.13 L655.68,484.34 L655.86,483.54 L656.04,482.72 L656.22,481.89 L656.40,481.05 L656.57,480.19 L656.75,479.31 L656.93,478.42 L657.11,477.52 L657.25,476.83 L657.38,476.14 L657.52,475.43 L657.65,474.72 L657.79,474.00 L657.92,473.27 L658.05,472.53 L658.19,471.79 L658.32,471.03 L658.46,470.27 L658.59,469.50 L658.73,468.72 L658.86,467.93 L659.00,467.13 L659.13,466.33 L659.26,465.51 L659.40,464.69 L659.53,463.85 L659.67,463.01 L659.80,462.16 L659.94,461.30 L660.07,460.44 L660.21,459.56 L660.34,458.67 L660.48,457.78 L660.61,456.88 L660.74,455.96 L660.88,455.04 L661.01,454.11 L661.15,453.17 L661.28,452.22 L661.42,451.26 L661.55,450.29 L661.69,449.32 L661.82,448.33 L661.95,447.33 L662.09,446.33 L662.22,445.32 L662.36,444.30 L662.49,443.27 L662.63,442.23 L662.72,441.54 L662.81,440.84 L662.90,440.14 L662.99,439.43 L663.08,438.72 L663.17,438.01 L663.25,437.30 L663.34,436.58 L663.43,435.86 L663.52,435.14 L663.61,434.41 L663.70,433.69 L663.79,432.96 L663.88,432.22 L663.97,431.49 L664.06,430.75 L664.15,430.01 L664.24,429.27 L664.33,428.53 L664.42,427.78 L664.51,427.03 L664.60,426.28 L664.69,425.53 L664.78,424.78 L664.87,424.02 L664.96,423.27 L665.05,422.51 L665.14,421.75 L665.23,420.99 L665.32,420.22 L665.41,419.46 L665.50,418.70 L665.59,417.93 L665.68,417.16 L665.77,416.40 L665.86,415.63 L665.95,414.86 L666.03,414.09 L666.12,413.32 L666.21,412.55 L666.30,411.77 L666.39,411.00 L666.48,410.23 L666.57,409.45 L666.66,408.68 L666.75,407.91 L666.84,407.13 L666.93,406.36 L667.02,405.59 L667.11,404.81 L667.20,404.04 L667.29,403.27 L667.38,402.49 L667.47,401.72 L667.56,400.95 L667.65,400.18 L667.74,399.41 L667.83,398.64 L667.92,397.88 L668.01,397.11 L668.10,396.35 L668.19,395.59 L668.28,394.83 L668.37,394.07 L668.46,393.32 L668.55,392.57 L668.64,391.82 L668.72,391.08 L668.81,390.34 L668.90,389.60 L668.99,388.87 L669.08,388.14 L669.17,387.41 L669.26,386.69 L669.35,385.97 L669.44,385.26 L669.53,384.55 L669.62,383.85 L669.71,383.15 L669.85,382.11 L669.98,381.09 L670.11,380.08 L670.25,379.08 L670.38,378.10 L670.52,377.13 L670.65,376.18 L670.79,375.24 L670.92,374.32 L671.06,373.42 L671.19,372.53 L671.33,371.67 L671.46,370.82 L671.59,369.99 L671.73,369.19 L671.86,368.40 L672.00,367.63 L672.13,366.89 L672.27,366.17 L672.40,365.48 L672.58,364.58 L672.76,363.74 L672.94,362.93 L673.12,362.18 L673.30,361.46 L673.52,360.64 L673.75,359.88 L673.97,359.20 L674.24,358.49 L674.55,357.79 L674.91,357.17 L675.41,356.65 L676.08,356.57 L676.62,357.03 L677.02,357.70 L677.33,358.41 L677.60,359.15 L677.83,359.87 L678.05,360.68 L678.23,361.39 L678.41,362.16 L678.59,362.99 L678.77,363.89 L678.90,364.61 L679.04,365.37 L679.17,366.17 L679.31,367.01 L679.44,367.90 L679.57,368.83 L679.71,369.80 L679.84,370.83 L679.93,371.54 L680.02,372.27 L680.11,373.03 L680.20,373.80 L680.29,374.60 L680.38,375.43 L680.47,376.28 L680.56,377.15 L680.65,378.05 L680.74,378.97 L680.83,379.92 L680.92,380.89 L681.01,381.89 L681.10,382.92 L681.19,383.97 L681.28,385.05 L681.37,386.16 L681.46,387.30 L681.55,388.46 L681.64,389.66 L681.73,390.88 L681.82,392.13 L681.91,393.42 L682.00,394.73 L682.09,396.07 L682.18,397.45 L682.22,398.15 L682.26,398.86 L682.31,399.57 L682.35,400.29 L682.40,401.03 L682.44,401.77 L682.49,402.51 L682.53,403.27 L682.58,404.03 L682.62,404.81 L682.67,405.59 L682.71,406.38 L682.76,407.17 L682.80,407.98 L682.85,408.80 L682.89,409.62 L682.94,410.45 L682.98,411.29 L683.03,412.14 L683.07,413.00 L683.12,413.87 L683.16,414.74 L683.21,415.63 L683.25,416.52 L683.30,417.42 L683.34,418.34 L683.39,419.26 L683.43,420.19 L683.48,421.13 L683.52,422.07 L683.57,423.03 L683.61,424.00" stroke="#0000ff" stroke-width="2.1" fill="none" stroke-linejoin="round" stroke-linecap="butt"/></g>
<rect x="172.6" y="0.5" width="399.6" height="25.6" fill="#fff" stroke="#262626" stroke-width="1"/>
<line x1="178.1" y1="13.3" x2="235.7" y2="13.3" stroke="#ff0000" stroke-width="2"/>
<text x="240.2" y="18.8" font-size="15.5" style="fill:#000">After optimization</text>
<line x1="371.6" y1="13.3" x2="429.2" y2="13.3" stroke="#0000ff" stroke-width="2"/>
<text x="433.7" y="18.8" font-size="15.5" style="fill:#000">Before optimization</text>
</g></svg></body></html>
